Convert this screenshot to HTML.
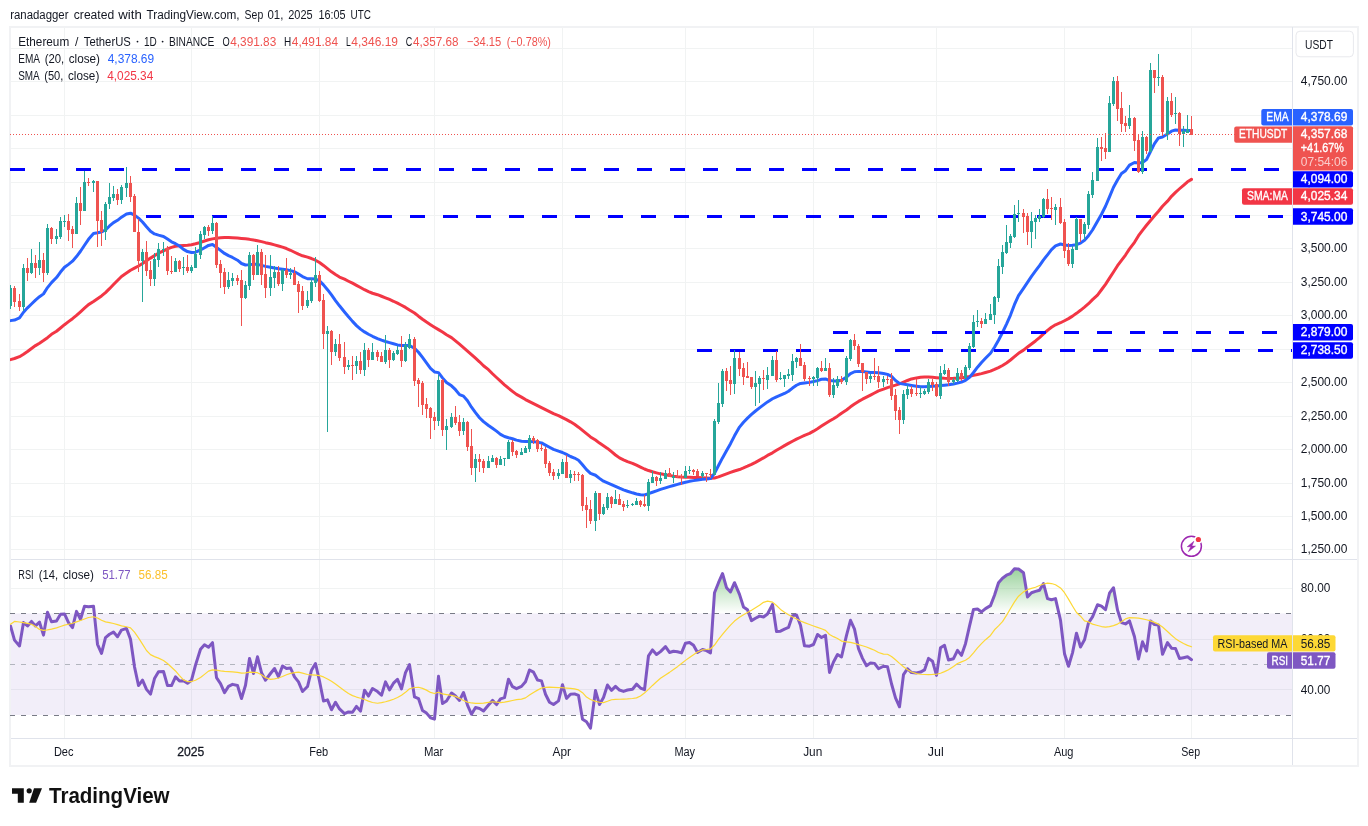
<!DOCTYPE html><html><head><meta charset="utf-8"><title>ETHUSDT</title><style>html,body{margin:0;padding:0;background:#fff;width:1368px;height:826px;overflow:hidden}svg text{font-family:"Liberation Sans",sans-serif}</style></head><body><svg width="1368" height="826" viewBox="0 0 1368 826" style="position:absolute;left:0;top:0;will-change:transform">
<defs>
<clipPath id="cm"><rect x="10" y="27" width="1282" height="532"/></clipPath>
<clipPath id="cr"><rect x="10" y="560" width="1282" height="178"/></clipPath>
<linearGradient id="gob" x1="0" y1="537.4" x2="0" y2="613.5" gradientUnits="userSpaceOnUse"><stop offset="0" stop-color="#4caf50" stop-opacity="0.95"/><stop offset="1" stop-color="#4caf50" stop-opacity="0"/></linearGradient>
</defs>
<rect x="0" y="0" width="1368" height="826" fill="#fff"/>
<rect x="10" y="27" width="1348" height="739" fill="none" stroke="#f1f2f4" stroke-width="2"/>
<g shape-rendering="crispEdges">
<rect x="11" y="48" width="1281" height="1" fill="#f1f3f3"/>
<rect x="11" y="81" width="1281" height="1" fill="#f1f3f3"/>
<rect x="11" y="115" width="1281" height="1" fill="#f1f3f3"/>
<rect x="11" y="148" width="1281" height="1" fill="#f1f3f3"/>
<rect x="11" y="182" width="1281" height="1" fill="#f1f3f3"/>
<rect x="11" y="215" width="1281" height="1" fill="#f1f3f3"/>
<rect x="11" y="248" width="1281" height="1" fill="#f1f3f3"/>
<rect x="11" y="282" width="1281" height="1" fill="#f1f3f3"/>
<rect x="11" y="315" width="1281" height="1" fill="#f1f3f3"/>
<rect x="11" y="349" width="1281" height="1" fill="#f1f3f3"/>
<rect x="11" y="382" width="1281" height="1" fill="#f1f3f3"/>
<rect x="11" y="416" width="1281" height="1" fill="#f1f3f3"/>
<rect x="11" y="449" width="1281" height="1" fill="#f1f3f3"/>
<rect x="11" y="483" width="1281" height="1" fill="#f1f3f3"/>
<rect x="11" y="516" width="1281" height="1" fill="#f1f3f3"/>
<rect x="11" y="549" width="1281" height="1" fill="#f1f3f3"/>
<rect x="11" y="588" width="1281" height="1" fill="#f1f3f3"/>
<rect x="11" y="639" width="1281" height="1" fill="#f1f3f3"/>
<rect x="11" y="689" width="1281" height="1" fill="#f1f3f3"/>
<rect x="64" y="27" width="1" height="711" fill="#f1f3f3"/>
<rect x="191" y="27" width="1" height="711" fill="#f1f3f3"/>
<rect x="319" y="27" width="1" height="711" fill="#f1f3f3"/>
<rect x="434" y="27" width="1" height="711" fill="#f1f3f3"/>
<rect x="562" y="27" width="1" height="711" fill="#f1f3f3"/>
<rect x="685" y="27" width="1" height="711" fill="#f1f3f3"/>
<rect x="813" y="27" width="1" height="711" fill="#f1f3f3"/>
<rect x="936" y="27" width="1" height="711" fill="#f1f3f3"/>
<rect x="1064" y="27" width="1" height="711" fill="#f1f3f3"/>
<rect x="1191" y="27" width="1" height="711" fill="#f1f3f3"/>
<rect x="11" y="559" width="1346" height="1" fill="#e0e3eb"/>
<rect x="11" y="738" width="1346" height="1" fill="#e0e3eb"/>
<rect x="1292" y="27" width="1" height="738" fill="#e0e3eb"/>
</g>
<rect x="11" y="613.5" width="1281" height="101.5" fill="#7e57c2" fill-opacity="0.1"/>
<line x1="10" y1="613.5" x2="1292" y2="613.5" stroke="#787b86" stroke-width="1" stroke-dasharray="5 6"/>
<line x1="10" y1="664.5" x2="1292" y2="664.5" stroke="#b2b5be" stroke-width="1" stroke-dasharray="5 6"/>
<line x1="10" y1="715.5" x2="1292" y2="715.5" stroke="#787b86" stroke-width="1" stroke-dasharray="5 6"/>
<path d="M10.5 359.61 L14.5 358.53 L19.5 356.67 L23.5 354.24 L27.5 351.53 L31.5 348.46 L35.5 345.59 L39.5 343.20 L43.5 340.53 L47.5 337.66 L51.5 334.33 L56.5 331.26 L60.5 327.99 L64.5 324.70 L68.5 321.65 L72.5 318.68 L76.5 315.41 L80.5 311.79 L84.5 308.14 L88.5 304.63 L93.5 301.57 L97.5 298.74 L101.5 295.93 L105.5 292.59 L109.5 288.69 L113.5 284.51 L117.5 280.46 L121.5 276.52 L126.5 273.10 L130.5 270.26 L134.5 268.15 L138.5 266.02 L142.5 263.51 L146.5 260.76 L150.5 258.10 L154.5 255.65 L158.5 253.15 L163.5 250.82 L167.5 248.80 L171.5 247.34 L175.5 246.32 L179.5 245.71 L183.5 245.40 L187.5 245.19 L191.5 244.74 L195.5 243.78 L200.5 242.46 L204.5 241.01 L208.5 239.81 L212.5 238.87 L216.5 238.21 L220.5 237.80 L224.5 237.60 L228.5 237.62 L232.5 237.83 L237.5 238.11 L241.5 238.46 L245.5 238.86 L249.5 239.36 L253.5 240.00 L257.5 240.78 L261.5 241.66 L265.5 242.67 L270.5 243.74 L274.5 244.87 L278.5 245.96 L282.5 247.14 L286.5 248.52 L290.5 250.26 L294.5 252.26 L298.5 254.17 L302.5 255.80 L307.5 257.14 L311.5 258.54 L315.5 260.20 L319.5 262.50 L323.5 265.45 L327.5 268.70 L331.5 271.85 L335.5 274.55 L339.5 277.01 L344.5 279.16 L348.5 281.21 L352.5 283.18 L356.5 285.31 L360.5 287.54 L364.5 289.72 L368.5 291.61 L372.5 293.25 L377.5 294.72 L381.5 296.24 L385.5 297.79 L389.5 299.47 L393.5 301.26 L397.5 303.17 L401.5 305.22 L405.5 307.43 L409.5 310.05 L414.5 312.99 L418.5 316.20 L422.5 319.23 L426.5 322.05 L430.5 324.66 L434.5 327.16 L438.5 329.60 L442.5 332.00 L446.5 334.68 L451.5 337.60 L455.5 340.85 L459.5 344.16 L463.5 347.60 L467.5 351.10 L471.5 354.64 L475.5 358.21 L479.5 361.79 L483.5 365.71 L488.5 369.70 L492.5 373.76 L496.5 377.51 L500.5 381.20 L504.5 384.78 L508.5 388.18 L512.5 391.34 L516.5 394.40 L521.5 397.11 L525.5 399.55 L529.5 401.64 L533.5 403.66 L537.5 405.65 L541.5 407.64 L545.5 409.65 L549.5 411.64 L553.5 413.68 L558.5 415.63 L562.5 417.61 L566.5 419.61 L570.5 421.84 L574.5 424.33 L578.5 427.18 L582.5 430.39 L586.5 433.67 L590.5 436.95 L595.5 440.06 L599.5 443.09 L603.5 445.75 L607.5 448.42 L611.5 451.69 L615.5 455.00 L619.5 457.90 L623.5 459.83 L627.5 461.59 L632.5 463.33 L636.5 465.22 L640.5 467.16 L644.5 469.00 L648.5 470.54 L652.5 471.77 L656.5 472.84 L660.5 473.85 L665.5 474.74 L669.5 475.52 L673.5 476.13 L677.5 476.64 L681.5 477.00 L685.5 477.23 L689.5 477.36 L693.5 477.46 L697.5 477.56 L702.5 477.71 L706.5 478.05 L710.5 478.31 L714.5 477.96 L718.5 476.88 L722.5 475.32 L726.5 473.82 L730.5 472.40 L734.5 470.99 L739.5 469.55 L743.5 467.95 L747.5 466.23 L751.5 464.34 L755.5 462.31 L759.5 460.16 L763.5 457.92 L767.5 455.41 L772.5 452.86 L776.5 450.29 L780.5 447.93 L784.5 445.61 L788.5 443.36 L792.5 441.20 L796.5 439.15 L800.5 437.26 L804.5 435.35 L809.5 433.39 L813.5 431.16 L817.5 428.73 L821.5 426.10 L825.5 423.52 L829.5 421.08 L833.5 418.68 L837.5 416.15 L841.5 413.18 L846.5 410.01 L850.5 406.81 L854.5 403.99 L858.5 401.43 L862.5 399.19 L866.5 397.16 L870.5 395.07 L874.5 392.97 L878.5 390.85 L883.5 389.09 L887.5 387.56 L891.5 386.31 L895.5 385.12 L899.5 383.78 L903.5 382.17 L907.5 380.49 L911.5 378.96 L916.5 377.90 L920.5 377.22 L924.5 377.01 L928.5 377.07 L932.5 377.33 L936.5 377.66 L940.5 377.98 L944.5 378.24 L948.5 378.39 L953.5 378.36 L957.5 378.15 L961.5 377.78 L965.5 377.18 L969.5 376.35 L973.5 375.40 L977.5 374.48 L981.5 373.59 L985.5 372.47 L990.5 371.10 L994.5 369.42 L998.5 367.57 L1002.5 365.46 L1006.5 362.97 L1010.5 360.01 L1014.5 356.67 L1018.5 353.35 L1023.5 350.12 L1027.5 347.03 L1031.5 343.97 L1035.5 340.95 L1039.5 337.64 L1043.5 333.96 L1047.5 330.35 L1051.5 327.27 L1055.5 324.80 L1060.5 322.73 L1064.5 320.72 L1068.5 318.61 L1072.5 316.13 L1076.5 313.34 L1080.5 310.31 L1084.5 307.11 L1088.5 303.72 L1092.5 299.67 L1097.5 295.03 L1101.5 289.74 L1105.5 284.31 L1109.5 278.13 L1113.5 271.99 L1117.5 265.69 L1121.5 260.33 L1125.5 255.03 L1129.5 248.88 L1134.5 242.30 L1138.5 235.71 L1142.5 230.32 L1146.5 225.26 L1150.5 220.46 L1154.5 215.81 L1158.5 211.23 L1162.5 206.22 L1167.5 201.17 L1171.5 196.33 L1175.5 192.33 L1179.5 188.75 L1183.5 185.31 L1187.5 181.76 L1191.5 179.35" fill="none" stroke="#f23645" stroke-width="3" stroke-linejoin="round" stroke-linecap="round" clip-path="url(#cm)" />
<path d="M10.5 320.62 L14.5 320.03 L19.5 317.98 L23.5 312.25 L27.5 307.85 L31.5 304.03 L35.5 300.12 L39.5 296.69 L43.5 293.87 L47.5 287.57 L51.5 282.63 L56.5 277.56 L60.5 272.05 L64.5 267.27 L68.5 264.34 L72.5 261.16 L76.5 256.55 L80.5 251.25 L84.5 245.24 L88.5 239.29 L93.5 233.58 L97.5 232.82 L101.5 231.93 L105.5 230.00 L109.5 225.97 L113.5 222.59 L117.5 220.32 L121.5 217.15 L126.5 213.97 L130.5 213.19 L134.5 215.14 L138.5 218.16 L142.5 222.00 L146.5 226.73 L150.5 231.25 L154.5 233.94 L158.5 235.17 L163.5 236.45 L167.5 239.12 L171.5 241.80 L175.5 243.68 L179.5 246.01 L183.5 249.36 L187.5 251.58 L191.5 252.50 L195.5 252.14 L200.5 250.00 L204.5 247.69 L208.5 245.42 L212.5 244.46 L216.5 247.34 L220.5 250.43 L224.5 253.44 L228.5 255.63 L232.5 257.48 L237.5 260.21 L241.5 263.49 L245.5 264.99 L249.5 264.63 L253.5 264.18 L257.5 264.36 L261.5 265.36 L265.5 266.35 L270.5 267.32 L274.5 268.04 L278.5 268.65 L282.5 269.20 L286.5 269.82 L290.5 270.60 L294.5 271.70 L298.5 274.03 L302.5 276.56 L307.5 278.75 L311.5 278.87 L315.5 279.00 L319.5 280.90 L323.5 284.85 L327.5 289.67 L331.5 294.92 L335.5 300.53 L339.5 305.82 L344.5 311.94 L348.5 316.80 L352.5 321.37 L356.5 325.60 L360.5 329.14 L364.5 331.91 L368.5 334.24 L372.5 336.28 L377.5 338.53 L381.5 340.09 L385.5 341.46 L389.5 342.65 L393.5 343.76 L397.5 344.90 L401.5 345.59 L405.5 345.62 L409.5 345.62 L414.5 348.25 L418.5 352.27 L422.5 357.45 L426.5 362.81 L430.5 368.40 L434.5 371.91 L438.5 372.65 L442.5 377.87 L446.5 382.44 L451.5 385.83 L455.5 389.68 L459.5 394.59 L463.5 396.13 L467.5 400.77 L471.5 407.21 L475.5 412.68 L479.5 417.73 L483.5 421.67 L488.5 425.47 L492.5 428.24 L496.5 431.14 L500.5 434.32 L504.5 436.54 L508.5 437.73 L512.5 438.75 L516.5 440.12 L521.5 441.26 L525.5 441.38 L529.5 441.48 L533.5 441.71 L537.5 442.12 L541.5 442.94 L545.5 445.12 L549.5 447.29 L553.5 449.35 L558.5 451.17 L562.5 452.50 L566.5 454.44 L570.5 456.48 L574.5 458.03 L578.5 460.20 L582.5 464.77 L586.5 469.65 L590.5 473.38 L595.5 475.27 L599.5 478.39 L603.5 481.16 L607.5 482.91 L611.5 484.61 L615.5 486.47 L619.5 488.23 L623.5 489.87 L627.5 491.25 L632.5 492.81 L636.5 493.96 L640.5 494.76 L644.5 494.95 L648.5 493.67 L652.5 492.29 L656.5 490.84 L660.5 489.41 L665.5 487.81 L669.5 486.61 L673.5 485.47 L677.5 484.38 L681.5 483.29 L685.5 482.24 L689.5 481.35 L693.5 480.64 L697.5 480.03 L702.5 479.38 L706.5 479.04 L710.5 478.53 L714.5 473.34 L718.5 465.54 L722.5 457.91 L726.5 450.80 L730.5 443.69 L734.5 435.85 L739.5 427.12 L743.5 422.27 L747.5 418.12 L751.5 414.38 L755.5 411.02 L759.5 407.88 L763.5 404.83 L767.5 401.91 L772.5 398.75 L776.5 396.80 L780.5 395.16 L784.5 393.44 L788.5 391.24 L792.5 388.08 L796.5 385.26 L800.5 383.41 L804.5 382.93 L809.5 382.38 L813.5 381.58 L817.5 380.62 L821.5 379.29 L825.5 378.93 L829.5 380.55 L833.5 380.88 L837.5 381.00 L841.5 380.23 L846.5 377.13 L850.5 373.65 L854.5 371.75 L858.5 371.38 L862.5 371.58 L866.5 371.97 L870.5 372.49 L874.5 372.50 L878.5 372.68 L883.5 373.43 L887.5 374.37 L891.5 376.41 L895.5 380.51 L899.5 383.35 L903.5 384.13 L907.5 384.82 L911.5 385.49 L916.5 386.22 L920.5 386.77 L924.5 386.82 L928.5 386.49 L932.5 386.16 L936.5 385.90 L940.5 385.58 L944.5 385.16 L948.5 384.66 L953.5 383.91 L957.5 383.12 L961.5 382.02 L965.5 380.37 L969.5 377.34 L973.5 372.51 L977.5 367.22 L981.5 362.50 L985.5 358.24 L990.5 353.22 L994.5 347.22 L998.5 340.23 L1002.5 332.50 L1006.5 324.12 L1010.5 315.06 L1014.5 304.46 L1018.5 295.72 L1023.5 288.41 L1027.5 282.45 L1031.5 276.43 L1035.5 270.98 L1039.5 265.70 L1043.5 259.89 L1047.5 254.84 L1051.5 249.63 L1055.5 245.93 L1060.5 244.02 L1064.5 245.05 L1068.5 245.61 L1072.5 245.32 L1076.5 244.69 L1080.5 243.02 L1084.5 240.32 L1088.5 235.71 L1092.5 230.01 L1097.5 221.25 L1101.5 214.27 L1105.5 206.29 L1109.5 196.82 L1113.5 187.29 L1117.5 180.00 L1121.5 173.47 L1125.5 170.67 L1129.5 165.16 L1134.5 162.52 L1138.5 163.03 L1142.5 162.54 L1146.5 159.64 L1150.5 151.51 L1154.5 143.60 L1158.5 137.97 L1162.5 137.07 L1167.5 133.98 L1171.5 131.18 L1175.5 130.01 L1179.5 130.17 L1183.5 130.33 L1187.5 130.48 L1191.5 130.62" fill="none" stroke="#2962ff" stroke-width="3" stroke-linejoin="round" stroke-linecap="round" clip-path="url(#cm)" />
<line x1="10" y1="169.5" x2="1292" y2="169.5" stroke="#0000ff" stroke-width="3" stroke-dasharray="15 18" clip-path="url(#cm)"/>
<line x1="146" y1="216.5" x2="1292" y2="216.5" stroke="#0000ff" stroke-width="3" stroke-dasharray="15 18" clip-path="url(#cm)"/>
<line x1="833" y1="332.5" x2="1292" y2="332.5" stroke="#0000ff" stroke-width="3" stroke-dasharray="15 18" clip-path="url(#cm)"/>
<line x1="697" y1="350.5" x2="1292" y2="350.5" stroke="#0000ff" stroke-width="3" stroke-dasharray="15 18" clip-path="url(#cm)"/>
<g clip-path="url(#cm)" shape-rendering="crispEdges">
<rect x="10" y="285" width="1" height="24" fill="#26a69a"/><rect x="9" y="288" width="3" height="18" fill="#26a69a"/>
<rect x="14" y="286" width="1" height="21" fill="#ef5350"/><rect x="13" y="288" width="3" height="14" fill="#ef5350"/>
<rect x="19" y="294" width="1" height="17" fill="#ef5350"/><rect x="18" y="301" width="3" height="6" fill="#ef5350"/>
<rect x="23" y="264" width="1" height="47" fill="#26a69a"/><rect x="22" y="268" width="3" height="39" fill="#26a69a"/>
<rect x="27" y="258" width="1" height="23" fill="#ef5350"/><rect x="26" y="268" width="3" height="5" fill="#ef5350"/>
<rect x="31" y="249" width="1" height="25" fill="#26a69a"/><rect x="30" y="263" width="3" height="10" fill="#26a69a"/>
<rect x="35" y="255" width="1" height="23" fill="#ef5350"/><rect x="34" y="263" width="3" height="5" fill="#ef5350"/>
<rect x="39" y="242" width="1" height="33" fill="#26a69a"/><rect x="38" y="260" width="3" height="8" fill="#26a69a"/>
<rect x="43" y="253" width="1" height="29" fill="#ef5350"/><rect x="42" y="260" width="3" height="13" fill="#ef5350"/>
<rect x="47" y="224" width="1" height="51" fill="#26a69a"/><rect x="46" y="228" width="3" height="45" fill="#26a69a"/>
<rect x="51" y="227" width="1" height="17" fill="#ef5350"/><rect x="50" y="228" width="3" height="11" fill="#ef5350"/>
<rect x="56" y="229" width="1" height="15" fill="#26a69a"/><rect x="55" y="236" width="3" height="3" fill="#26a69a"/>
<rect x="60" y="217" width="1" height="22" fill="#26a69a"/><rect x="59" y="221" width="3" height="16" fill="#26a69a"/>
<rect x="64" y="215" width="1" height="12" fill="#26a69a"/><rect x="63" y="221" width="3" height="1" fill="#26a69a"/>
<rect x="68" y="214" width="1" height="27" fill="#ef5350"/><rect x="67" y="221" width="3" height="9" fill="#ef5350"/>
<rect x="72" y="226" width="1" height="22" fill="#ef5350"/><rect x="71" y="229" width="3" height="5" fill="#ef5350"/>
<rect x="76" y="197" width="1" height="37" fill="#26a69a"/><rect x="75" y="203" width="3" height="31" fill="#26a69a"/>
<rect x="80" y="187" width="1" height="38" fill="#ef5350"/><rect x="79" y="203" width="3" height="8" fill="#ef5350"/>
<rect x="84" y="171" width="1" height="40" fill="#26a69a"/><rect x="83" y="182" width="3" height="29" fill="#26a69a"/>
<rect x="88" y="178" width="1" height="8" fill="#ef5350"/><rect x="87" y="182" width="3" height="1" fill="#ef5350"/>
<rect x="93" y="180" width="1" height="12" fill="#26a69a"/><rect x="92" y="181" width="3" height="2" fill="#26a69a"/>
<rect x="97" y="181" width="1" height="66" fill="#ef5350"/><rect x="96" y="181" width="3" height="40" fill="#ef5350"/>
<rect x="101" y="211" width="1" height="35" fill="#ef5350"/><rect x="100" y="220" width="3" height="12" fill="#ef5350"/>
<rect x="105" y="202" width="1" height="38" fill="#26a69a"/><rect x="104" y="204" width="3" height="28" fill="#26a69a"/>
<rect x="109" y="183" width="1" height="26" fill="#26a69a"/><rect x="108" y="197" width="3" height="7" fill="#26a69a"/>
<rect x="113" y="186" width="1" height="15" fill="#26a69a"/><rect x="112" y="194" width="3" height="4" fill="#26a69a"/>
<rect x="117" y="189" width="1" height="16" fill="#ef5350"/><rect x="116" y="194" width="3" height="6" fill="#ef5350"/>
<rect x="121" y="185" width="1" height="19" fill="#26a69a"/><rect x="120" y="187" width="3" height="13" fill="#26a69a"/>
<rect x="126" y="167" width="1" height="30" fill="#26a69a"/><rect x="125" y="183" width="3" height="5" fill="#26a69a"/>
<rect x="130" y="176" width="1" height="26" fill="#ef5350"/><rect x="129" y="183" width="3" height="14" fill="#ef5350"/>
<rect x="134" y="194" width="1" height="38" fill="#ef5350"/><rect x="133" y="196" width="3" height="36" fill="#ef5350"/>
<rect x="138" y="219" width="1" height="53" fill="#ef5350"/><rect x="137" y="232" width="3" height="29" fill="#ef5350"/>
<rect x="142" y="249" width="1" height="53" fill="#26a69a"/><rect x="141" y="252" width="3" height="9" fill="#26a69a"/>
<rect x="146" y="241" width="1" height="35" fill="#ef5350"/><rect x="145" y="252" width="3" height="19" fill="#ef5350"/>
<rect x="150" y="261" width="1" height="25" fill="#ef5350"/><rect x="149" y="270" width="3" height="9" fill="#ef5350"/>
<rect x="154" y="253" width="1" height="33" fill="#26a69a"/><rect x="153" y="259" width="3" height="20" fill="#26a69a"/>
<rect x="158" y="243" width="1" height="24" fill="#26a69a"/><rect x="157" y="249" width="3" height="11" fill="#26a69a"/>
<rect x="163" y="242" width="1" height="14" fill="#26a69a"/><rect x="162" y="249" width="3" height="1" fill="#26a69a"/>
<rect x="167" y="246" width="1" height="29" fill="#ef5350"/><rect x="166" y="248" width="3" height="23" fill="#ef5350"/>
<rect x="171" y="256" width="1" height="18" fill="#ef5350"/><rect x="170" y="271" width="3" height="1" fill="#ef5350"/>
<rect x="175" y="258" width="1" height="14" fill="#26a69a"/><rect x="174" y="261" width="3" height="11" fill="#26a69a"/>
<rect x="179" y="260" width="1" height="12" fill="#ef5350"/><rect x="178" y="261" width="3" height="8" fill="#ef5350"/>
<rect x="183" y="257" width="1" height="18" fill="#26a69a"/><rect x="182" y="267" width="3" height="1" fill="#26a69a"/>
<rect x="187" y="255" width="1" height="18" fill="#ef5350"/><rect x="186" y="267" width="3" height="4" fill="#ef5350"/>
<rect x="191" y="265" width="1" height="8" fill="#26a69a"/><rect x="190" y="267" width="3" height="4" fill="#26a69a"/>
<rect x="195" y="247" width="1" height="21" fill="#26a69a"/><rect x="194" y="254" width="3" height="14" fill="#26a69a"/>
<rect x="200" y="231" width="1" height="28" fill="#26a69a"/><rect x="199" y="234" width="3" height="21" fill="#26a69a"/>
<rect x="204" y="226" width="1" height="13" fill="#26a69a"/><rect x="203" y="227" width="3" height="8" fill="#26a69a"/>
<rect x="208" y="225" width="1" height="11" fill="#ef5350"/><rect x="207" y="227" width="3" height="4" fill="#ef5350"/>
<rect x="212" y="216" width="1" height="18" fill="#26a69a"/><rect x="211" y="223" width="3" height="8" fill="#26a69a"/>
<rect x="216" y="222" width="1" height="46" fill="#ef5350"/><rect x="215" y="223" width="3" height="42" fill="#ef5350"/>
<rect x="220" y="260" width="1" height="28" fill="#ef5350"/><rect x="219" y="264" width="3" height="9" fill="#ef5350"/>
<rect x="224" y="268" width="1" height="26" fill="#ef5350"/><rect x="223" y="272" width="3" height="15" fill="#ef5350"/>
<rect x="228" y="272" width="1" height="17" fill="#26a69a"/><rect x="227" y="280" width="3" height="7" fill="#26a69a"/>
<rect x="232" y="273" width="1" height="13" fill="#26a69a"/><rect x="231" y="278" width="3" height="3" fill="#26a69a"/>
<rect x="237" y="275" width="1" height="10" fill="#ef5350"/><rect x="236" y="278" width="3" height="3" fill="#ef5350"/>
<rect x="241" y="270" width="1" height="56" fill="#ef5350"/><rect x="240" y="280" width="3" height="18" fill="#ef5350"/>
<rect x="245" y="281" width="1" height="18" fill="#26a69a"/><rect x="244" y="285" width="3" height="13" fill="#26a69a"/>
<rect x="249" y="252" width="1" height="38" fill="#26a69a"/><rect x="248" y="255" width="3" height="31" fill="#26a69a"/>
<rect x="253" y="254" width="1" height="26" fill="#ef5350"/><rect x="252" y="255" width="3" height="20" fill="#ef5350"/>
<rect x="257" y="245" width="1" height="30" fill="#26a69a"/><rect x="256" y="252" width="3" height="23" fill="#26a69a"/>
<rect x="261" y="249" width="1" height="36" fill="#ef5350"/><rect x="260" y="252" width="3" height="23" fill="#ef5350"/>
<rect x="265" y="255" width="1" height="43" fill="#ef5350"/><rect x="264" y="274" width="3" height="14" fill="#ef5350"/>
<rect x="270" y="255" width="1" height="41" fill="#26a69a"/><rect x="269" y="277" width="3" height="11" fill="#26a69a"/>
<rect x="274" y="266" width="1" height="22" fill="#26a69a"/><rect x="273" y="272" width="3" height="6" fill="#26a69a"/>
<rect x="278" y="266" width="1" height="20" fill="#ef5350"/><rect x="277" y="272" width="3" height="12" fill="#ef5350"/>
<rect x="282" y="269" width="1" height="22" fill="#26a69a"/><rect x="281" y="270" width="3" height="14" fill="#26a69a"/>
<rect x="286" y="258" width="1" height="20" fill="#ef5350"/><rect x="285" y="270" width="3" height="5" fill="#ef5350"/>
<rect x="290" y="268" width="1" height="11" fill="#26a69a"/><rect x="289" y="273" width="3" height="2" fill="#26a69a"/>
<rect x="294" y="267" width="1" height="18" fill="#ef5350"/><rect x="293" y="273" width="3" height="12" fill="#ef5350"/>
<rect x="298" y="281" width="1" height="32" fill="#ef5350"/><rect x="297" y="284" width="3" height="8" fill="#ef5350"/>
<rect x="302" y="286" width="1" height="24" fill="#ef5350"/><rect x="301" y="291" width="3" height="15" fill="#ef5350"/>
<rect x="307" y="291" width="1" height="17" fill="#26a69a"/><rect x="306" y="300" width="3" height="6" fill="#26a69a"/>
<rect x="311" y="278" width="1" height="25" fill="#26a69a"/><rect x="310" y="282" width="3" height="19" fill="#26a69a"/>
<rect x="315" y="257" width="1" height="30" fill="#26a69a"/><rect x="314" y="275" width="3" height="8" fill="#26a69a"/>
<rect x="319" y="271" width="1" height="31" fill="#ef5350"/><rect x="318" y="275" width="3" height="26" fill="#ef5350"/>
<rect x="323" y="294" width="1" height="55" fill="#ef5350"/><rect x="322" y="300" width="3" height="34" fill="#ef5350"/>
<rect x="327" y="326" width="1" height="106" fill="#26a69a"/><rect x="326" y="331" width="3" height="3" fill="#26a69a"/>
<rect x="331" y="330" width="1" height="35" fill="#ef5350"/><rect x="330" y="331" width="3" height="21" fill="#ef5350"/>
<rect x="335" y="339" width="1" height="17" fill="#26a69a"/><rect x="334" y="344" width="3" height="8" fill="#26a69a"/>
<rect x="339" y="334" width="1" height="27" fill="#ef5350"/><rect x="338" y="344" width="3" height="14" fill="#ef5350"/>
<rect x="344" y="342" width="1" height="32" fill="#ef5350"/><rect x="343" y="357" width="3" height="10" fill="#ef5350"/>
<rect x="348" y="360" width="1" height="10" fill="#26a69a"/><rect x="347" y="365" width="3" height="2" fill="#26a69a"/>
<rect x="352" y="356" width="1" height="24" fill="#ef5350"/><rect x="351" y="365" width="3" height="1" fill="#ef5350"/>
<rect x="356" y="356" width="1" height="18" fill="#26a69a"/><rect x="355" y="361" width="3" height="5" fill="#26a69a"/>
<rect x="360" y="352" width="1" height="22" fill="#ef5350"/><rect x="359" y="361" width="3" height="9" fill="#ef5350"/>
<rect x="364" y="343" width="1" height="33" fill="#26a69a"/><rect x="363" y="350" width="3" height="20" fill="#26a69a"/>
<rect x="368" y="348" width="1" height="19" fill="#ef5350"/><rect x="367" y="350" width="3" height="10" fill="#ef5350"/>
<rect x="372" y="343" width="1" height="17" fill="#26a69a"/><rect x="371" y="352" width="3" height="8" fill="#26a69a"/>
<rect x="377" y="350" width="1" height="11" fill="#ef5350"/><rect x="376" y="352" width="3" height="5" fill="#ef5350"/>
<rect x="381" y="352" width="1" height="10" fill="#ef5350"/><rect x="380" y="356" width="3" height="6" fill="#ef5350"/>
<rect x="385" y="335" width="1" height="29" fill="#26a69a"/><rect x="384" y="350" width="3" height="12" fill="#26a69a"/>
<rect x="389" y="348" width="1" height="20" fill="#ef5350"/><rect x="388" y="350" width="3" height="10" fill="#ef5350"/>
<rect x="393" y="351" width="1" height="10" fill="#26a69a"/><rect x="392" y="353" width="3" height="7" fill="#26a69a"/>
<rect x="397" y="346" width="1" height="9" fill="#26a69a"/><rect x="396" y="350" width="3" height="4" fill="#26a69a"/>
<rect x="401" y="336" width="1" height="31" fill="#ef5350"/><rect x="400" y="350" width="3" height="11" fill="#ef5350"/>
<rect x="405" y="342" width="1" height="20" fill="#26a69a"/><rect x="404" y="345" width="3" height="16" fill="#26a69a"/>
<rect x="409" y="334" width="1" height="15" fill="#26a69a"/><rect x="408" y="339" width="3" height="9" fill="#26a69a"/>
<rect x="414" y="337" width="1" height="49" fill="#ef5350"/><rect x="413" y="339" width="3" height="42" fill="#ef5350"/>
<rect x="418" y="378" width="1" height="29" fill="#ef5350"/><rect x="417" y="380" width="3" height="4" fill="#ef5350"/>
<rect x="422" y="381" width="1" height="34" fill="#ef5350"/><rect x="421" y="383" width="3" height="22" fill="#ef5350"/>
<rect x="426" y="398" width="1" height="20" fill="#ef5350"/><rect x="425" y="404" width="3" height="5" fill="#ef5350"/>
<rect x="430" y="407" width="1" height="32" fill="#ef5350"/><rect x="429" y="408" width="3" height="10" fill="#ef5350"/>
<rect x="434" y="412" width="1" height="18" fill="#ef5350"/><rect x="433" y="417" width="3" height="4" fill="#ef5350"/>
<rect x="438" y="375" width="1" height="51" fill="#26a69a"/><rect x="437" y="380" width="3" height="41" fill="#26a69a"/>
<rect x="442" y="379" width="1" height="57" fill="#ef5350"/><rect x="441" y="380" width="3" height="50" fill="#ef5350"/>
<rect x="446" y="419" width="1" height="31" fill="#26a69a"/><rect x="445" y="426" width="3" height="4" fill="#26a69a"/>
<rect x="451" y="413" width="1" height="15" fill="#26a69a"/><rect x="450" y="417" width="3" height="10" fill="#26a69a"/>
<rect x="455" y="406" width="1" height="19" fill="#ef5350"/><rect x="454" y="417" width="3" height="6" fill="#ef5350"/>
<rect x="459" y="415" width="1" height="21" fill="#ef5350"/><rect x="458" y="422" width="3" height="9" fill="#ef5350"/>
<rect x="463" y="418" width="1" height="17" fill="#26a69a"/><rect x="462" y="422" width="3" height="9" fill="#26a69a"/>
<rect x="467" y="421" width="1" height="30" fill="#ef5350"/><rect x="466" y="422" width="3" height="25" fill="#ef5350"/>
<rect x="471" y="429" width="1" height="46" fill="#ef5350"/><rect x="470" y="446" width="3" height="22" fill="#ef5350"/>
<rect x="475" y="454" width="1" height="28" fill="#26a69a"/><rect x="474" y="459" width="3" height="9" fill="#26a69a"/>
<rect x="479" y="454" width="1" height="18" fill="#ef5350"/><rect x="478" y="459" width="3" height="3" fill="#ef5350"/>
<rect x="483" y="459" width="1" height="14" fill="#ef5350"/><rect x="482" y="461" width="3" height="7" fill="#ef5350"/>
<rect x="488" y="456" width="1" height="12" fill="#26a69a"/><rect x="487" y="461" width="3" height="7" fill="#26a69a"/>
<rect x="492" y="455" width="1" height="7" fill="#26a69a"/><rect x="491" y="458" width="3" height="4" fill="#26a69a"/>
<rect x="496" y="457" width="1" height="11" fill="#ef5350"/><rect x="495" y="458" width="3" height="7" fill="#ef5350"/>
<rect x="500" y="456" width="1" height="9" fill="#26a69a"/><rect x="499" y="459" width="3" height="6" fill="#26a69a"/>
<rect x="504" y="458" width="1" height="8" fill="#26a69a"/><rect x="503" y="458" width="3" height="1" fill="#26a69a"/>
<rect x="508" y="440" width="1" height="19" fill="#26a69a"/><rect x="507" y="442" width="3" height="17" fill="#26a69a"/>
<rect x="512" y="440" width="1" height="16" fill="#ef5350"/><rect x="511" y="442" width="3" height="10" fill="#ef5350"/>
<rect x="516" y="450" width="1" height="8" fill="#ef5350"/><rect x="515" y="451" width="3" height="4" fill="#ef5350"/>
<rect x="521" y="448" width="1" height="7" fill="#26a69a"/><rect x="520" y="452" width="3" height="3" fill="#26a69a"/>
<rect x="525" y="446" width="1" height="7" fill="#26a69a"/><rect x="524" y="448" width="3" height="5" fill="#26a69a"/>
<rect x="529" y="435" width="1" height="17" fill="#26a69a"/><rect x="528" y="438" width="3" height="11" fill="#26a69a"/>
<rect x="533" y="436" width="1" height="8" fill="#ef5350"/><rect x="532" y="438" width="3" height="3" fill="#ef5350"/>
<rect x="537" y="439" width="1" height="13" fill="#ef5350"/><rect x="536" y="440" width="3" height="9" fill="#ef5350"/>
<rect x="541" y="444" width="1" height="7" fill="#ef5350"/><rect x="540" y="448" width="3" height="1" fill="#ef5350"/>
<rect x="545" y="447" width="1" height="21" fill="#ef5350"/><rect x="544" y="449" width="3" height="15" fill="#ef5350"/>
<rect x="549" y="461" width="1" height="15" fill="#ef5350"/><rect x="548" y="463" width="3" height="10" fill="#ef5350"/>
<rect x="553" y="469" width="1" height="11" fill="#ef5350"/><rect x="552" y="472" width="3" height="4" fill="#ef5350"/>
<rect x="558" y="469" width="1" height="10" fill="#26a69a"/><rect x="557" y="473" width="3" height="3" fill="#26a69a"/>
<rect x="562" y="459" width="1" height="15" fill="#26a69a"/><rect x="561" y="462" width="3" height="12" fill="#26a69a"/>
<rect x="566" y="455" width="1" height="23" fill="#ef5350"/><rect x="565" y="462" width="3" height="16" fill="#ef5350"/>
<rect x="570" y="470" width="1" height="13" fill="#26a69a"/><rect x="569" y="474" width="3" height="4" fill="#26a69a"/>
<rect x="574" y="471" width="1" height="10" fill="#ef5350"/><rect x="573" y="474" width="3" height="1" fill="#ef5350"/>
<rect x="578" y="472" width="1" height="9" fill="#ef5350"/><rect x="577" y="474" width="3" height="1" fill="#ef5350"/>
<rect x="582" y="474" width="1" height="37" fill="#ef5350"/><rect x="581" y="475" width="3" height="31" fill="#ef5350"/>
<rect x="586" y="497" width="1" height="31" fill="#ef5350"/><rect x="585" y="505" width="3" height="5" fill="#ef5350"/>
<rect x="590" y="500" width="1" height="24" fill="#ef5350"/><rect x="589" y="509" width="3" height="12" fill="#ef5350"/>
<rect x="595" y="491" width="1" height="40" fill="#26a69a"/><rect x="594" y="493" width="3" height="28" fill="#26a69a"/>
<rect x="599" y="493" width="1" height="27" fill="#ef5350"/><rect x="598" y="493" width="3" height="21" fill="#ef5350"/>
<rect x="603" y="504" width="1" height="11" fill="#26a69a"/><rect x="602" y="507" width="3" height="7" fill="#26a69a"/>
<rect x="607" y="493" width="1" height="17" fill="#26a69a"/><rect x="606" y="497" width="3" height="11" fill="#26a69a"/>
<rect x="611" y="496" width="1" height="12" fill="#ef5350"/><rect x="610" y="497" width="3" height="7" fill="#ef5350"/>
<rect x="615" y="490" width="1" height="14" fill="#26a69a"/><rect x="614" y="499" width="3" height="5" fill="#26a69a"/>
<rect x="619" y="494" width="1" height="11" fill="#ef5350"/><rect x="618" y="499" width="3" height="6" fill="#ef5350"/>
<rect x="623" y="501" width="1" height="10" fill="#ef5350"/><rect x="622" y="504" width="3" height="3" fill="#ef5350"/>
<rect x="627" y="500" width="1" height="8" fill="#26a69a"/><rect x="626" y="505" width="3" height="1" fill="#26a69a"/>
<rect x="632" y="503" width="1" height="3" fill="#26a69a"/><rect x="631" y="504" width="3" height="1" fill="#26a69a"/>
<rect x="636" y="498" width="1" height="7" fill="#26a69a"/><rect x="635" y="501" width="3" height="4" fill="#26a69a"/>
<rect x="640" y="500" width="1" height="7" fill="#ef5350"/><rect x="639" y="501" width="3" height="4" fill="#ef5350"/>
<rect x="644" y="495" width="1" height="12" fill="#ef5350"/><rect x="643" y="504" width="3" height="2" fill="#ef5350"/>
<rect x="648" y="479" width="1" height="32" fill="#26a69a"/><rect x="647" y="482" width="3" height="24" fill="#26a69a"/>
<rect x="652" y="471" width="1" height="12" fill="#26a69a"/><rect x="651" y="477" width="3" height="6" fill="#26a69a"/>
<rect x="656" y="476" width="1" height="10" fill="#ef5350"/><rect x="655" y="477" width="3" height="4" fill="#ef5350"/>
<rect x="660" y="472" width="1" height="12" fill="#26a69a"/><rect x="659" y="478" width="3" height="3" fill="#26a69a"/>
<rect x="665" y="470" width="1" height="9" fill="#26a69a"/><rect x="664" y="473" width="3" height="6" fill="#26a69a"/>
<rect x="669" y="468" width="1" height="9" fill="#ef5350"/><rect x="668" y="473" width="3" height="4" fill="#ef5350"/>
<rect x="673" y="472" width="1" height="11" fill="#26a69a"/><rect x="672" y="476" width="3" height="2" fill="#26a69a"/>
<rect x="677" y="470" width="1" height="8" fill="#ef5350"/><rect x="676" y="476" width="3" height="1" fill="#ef5350"/>
<rect x="681" y="474" width="1" height="11" fill="#ef5350"/><rect x="680" y="476" width="3" height="2" fill="#ef5350"/>
<rect x="685" y="466" width="1" height="12" fill="#26a69a"/><rect x="684" y="471" width="3" height="7" fill="#26a69a"/>
<rect x="689" y="466" width="1" height="8" fill="#26a69a"/><rect x="688" y="470" width="3" height="1" fill="#26a69a"/>
<rect x="693" y="469" width="1" height="6" fill="#ef5350"/><rect x="692" y="470" width="3" height="2" fill="#ef5350"/>
<rect x="697" y="469" width="1" height="7" fill="#ef5350"/><rect x="696" y="471" width="3" height="5" fill="#ef5350"/>
<rect x="702" y="471" width="1" height="7" fill="#26a69a"/><rect x="701" y="473" width="3" height="3" fill="#26a69a"/>
<rect x="706" y="473" width="1" height="9" fill="#ef5350"/><rect x="705" y="473" width="3" height="1" fill="#ef5350"/>
<rect x="710" y="469" width="1" height="9" fill="#ef5350"/><rect x="709" y="474" width="3" height="1" fill="#ef5350"/>
<rect x="714" y="419" width="1" height="56" fill="#26a69a"/><rect x="713" y="421" width="3" height="54" fill="#26a69a"/>
<rect x="718" y="383" width="1" height="41" fill="#26a69a"/><rect x="717" y="403" width="3" height="19" fill="#26a69a"/>
<rect x="722" y="369" width="1" height="38" fill="#26a69a"/><rect x="721" y="371" width="3" height="33" fill="#26a69a"/>
<rect x="726" y="368" width="1" height="23" fill="#ef5350"/><rect x="725" y="371" width="3" height="10" fill="#ef5350"/>
<rect x="730" y="366" width="1" height="29" fill="#ef5350"/><rect x="729" y="380" width="3" height="4" fill="#ef5350"/>
<rect x="734" y="350" width="1" height="44" fill="#26a69a"/><rect x="733" y="358" width="3" height="26" fill="#26a69a"/>
<rect x="739" y="352" width="1" height="24" fill="#ef5350"/><rect x="738" y="358" width="3" height="11" fill="#ef5350"/>
<rect x="743" y="363" width="1" height="22" fill="#ef5350"/><rect x="742" y="368" width="3" height="9" fill="#ef5350"/>
<rect x="747" y="362" width="1" height="16" fill="#ef5350"/><rect x="746" y="376" width="3" height="2" fill="#ef5350"/>
<rect x="751" y="377" width="1" height="12" fill="#ef5350"/><rect x="750" y="377" width="3" height="10" fill="#ef5350"/>
<rect x="755" y="371" width="1" height="35" fill="#26a69a"/><rect x="754" y="383" width="3" height="4" fill="#26a69a"/>
<rect x="759" y="376" width="1" height="27" fill="#26a69a"/><rect x="758" y="378" width="3" height="6" fill="#26a69a"/>
<rect x="763" y="370" width="1" height="20" fill="#ef5350"/><rect x="762" y="378" width="3" height="1" fill="#ef5350"/>
<rect x="767" y="367" width="1" height="22" fill="#26a69a"/><rect x="766" y="375" width="3" height="5" fill="#26a69a"/>
<rect x="772" y="356" width="1" height="20" fill="#26a69a"/><rect x="771" y="360" width="3" height="16" fill="#26a69a"/>
<rect x="776" y="351" width="1" height="31" fill="#ef5350"/><rect x="775" y="360" width="3" height="20" fill="#ef5350"/>
<rect x="780" y="372" width="1" height="8" fill="#26a69a"/><rect x="779" y="378" width="3" height="1" fill="#26a69a"/>
<rect x="784" y="375" width="1" height="12" fill="#26a69a"/><rect x="783" y="375" width="3" height="4" fill="#26a69a"/>
<rect x="788" y="369" width="1" height="10" fill="#26a69a"/><rect x="787" y="374" width="3" height="2" fill="#26a69a"/>
<rect x="792" y="354" width="1" height="27" fill="#26a69a"/><rect x="791" y="361" width="3" height="14" fill="#26a69a"/>
<rect x="796" y="357" width="1" height="11" fill="#26a69a"/><rect x="795" y="358" width="3" height="4" fill="#26a69a"/>
<rect x="800" y="344" width="1" height="22" fill="#ef5350"/><rect x="799" y="358" width="3" height="8" fill="#ef5350"/>
<rect x="804" y="362" width="1" height="19" fill="#ef5350"/><rect x="803" y="365" width="3" height="14" fill="#ef5350"/>
<rect x="809" y="376" width="1" height="10" fill="#ef5350"/><rect x="808" y="378" width="3" height="1" fill="#ef5350"/>
<rect x="813" y="376" width="1" height="10" fill="#26a69a"/><rect x="812" y="377" width="3" height="2" fill="#26a69a"/>
<rect x="817" y="367" width="1" height="19" fill="#26a69a"/><rect x="816" y="368" width="3" height="10" fill="#26a69a"/>
<rect x="821" y="361" width="1" height="11" fill="#ef5350"/><rect x="820" y="368" width="3" height="3" fill="#ef5350"/>
<rect x="825" y="358" width="1" height="13" fill="#26a69a"/><rect x="824" y="368" width="3" height="3" fill="#26a69a"/>
<rect x="829" y="363" width="1" height="34" fill="#ef5350"/><rect x="828" y="368" width="3" height="27" fill="#ef5350"/>
<rect x="833" y="378" width="1" height="20" fill="#26a69a"/><rect x="832" y="385" width="3" height="10" fill="#26a69a"/>
<rect x="837" y="376" width="1" height="12" fill="#26a69a"/><rect x="836" y="379" width="3" height="7" fill="#26a69a"/>
<rect x="841" y="376" width="1" height="8" fill="#ef5350"/><rect x="840" y="379" width="3" height="3" fill="#ef5350"/>
<rect x="846" y="356" width="1" height="29" fill="#26a69a"/><rect x="845" y="358" width="3" height="24" fill="#26a69a"/>
<rect x="850" y="339" width="1" height="22" fill="#26a69a"/><rect x="849" y="340" width="3" height="19" fill="#26a69a"/>
<rect x="854" y="334" width="1" height="16" fill="#ef5350"/><rect x="853" y="340" width="3" height="6" fill="#ef5350"/>
<rect x="858" y="344" width="1" height="23" fill="#ef5350"/><rect x="857" y="346" width="3" height="18" fill="#ef5350"/>
<rect x="862" y="363" width="1" height="28" fill="#ef5350"/><rect x="861" y="363" width="3" height="9" fill="#ef5350"/>
<rect x="866" y="372" width="1" height="12" fill="#ef5350"/><rect x="865" y="372" width="3" height="7" fill="#ef5350"/>
<rect x="870" y="374" width="1" height="9" fill="#26a69a"/><rect x="869" y="376" width="3" height="3" fill="#26a69a"/>
<rect x="874" y="358" width="1" height="22" fill="#ef5350"/><rect x="873" y="376" width="3" height="1" fill="#ef5350"/>
<rect x="878" y="366" width="1" height="22" fill="#ef5350"/><rect x="877" y="376" width="3" height="6" fill="#ef5350"/>
<rect x="883" y="376" width="1" height="11" fill="#26a69a"/><rect x="882" y="379" width="3" height="3" fill="#26a69a"/>
<rect x="887" y="376" width="1" height="8" fill="#ef5350"/><rect x="886" y="379" width="3" height="1" fill="#ef5350"/>
<rect x="891" y="373" width="1" height="27" fill="#ef5350"/><rect x="890" y="379" width="3" height="17" fill="#ef5350"/>
<rect x="895" y="389" width="1" height="31" fill="#ef5350"/><rect x="894" y="395" width="3" height="16" fill="#ef5350"/>
<rect x="899" y="407" width="1" height="27" fill="#ef5350"/><rect x="898" y="410" width="3" height="10" fill="#ef5350"/>
<rect x="903" y="390" width="1" height="34" fill="#26a69a"/><rect x="902" y="394" width="3" height="26" fill="#26a69a"/>
<rect x="907" y="385" width="1" height="14" fill="#26a69a"/><rect x="906" y="389" width="3" height="6" fill="#26a69a"/>
<rect x="911" y="386" width="1" height="11" fill="#ef5350"/><rect x="910" y="389" width="3" height="5" fill="#ef5350"/>
<rect x="916" y="379" width="1" height="17" fill="#ef5350"/><rect x="915" y="393" width="3" height="1" fill="#ef5350"/>
<rect x="920" y="387" width="1" height="11" fill="#26a69a"/><rect x="919" y="393" width="3" height="1" fill="#26a69a"/>
<rect x="924" y="389" width="1" height="6" fill="#26a69a"/><rect x="923" y="391" width="3" height="3" fill="#26a69a"/>
<rect x="928" y="379" width="1" height="15" fill="#26a69a"/><rect x="927" y="382" width="3" height="10" fill="#26a69a"/>
<rect x="932" y="379" width="1" height="12" fill="#ef5350"/><rect x="931" y="382" width="3" height="3" fill="#ef5350"/>
<rect x="936" y="382" width="1" height="15" fill="#ef5350"/><rect x="935" y="384" width="3" height="12" fill="#ef5350"/>
<rect x="940" y="366" width="1" height="33" fill="#26a69a"/><rect x="939" y="373" width="3" height="23" fill="#26a69a"/>
<rect x="944" y="364" width="1" height="11" fill="#26a69a"/><rect x="943" y="370" width="3" height="4" fill="#26a69a"/>
<rect x="948" y="368" width="1" height="18" fill="#ef5350"/><rect x="947" y="370" width="3" height="12" fill="#ef5350"/>
<rect x="953" y="378" width="1" height="6" fill="#26a69a"/><rect x="952" y="380" width="3" height="2" fill="#26a69a"/>
<rect x="957" y="368" width="1" height="14" fill="#26a69a"/><rect x="956" y="373" width="3" height="8" fill="#26a69a"/>
<rect x="961" y="370" width="1" height="11" fill="#ef5350"/><rect x="960" y="373" width="3" height="5" fill="#ef5350"/>
<rect x="965" y="365" width="1" height="14" fill="#26a69a"/><rect x="964" y="367" width="3" height="11" fill="#26a69a"/>
<rect x="969" y="343" width="1" height="27" fill="#26a69a"/><rect x="968" y="346" width="3" height="22" fill="#26a69a"/>
<rect x="973" y="315" width="1" height="33" fill="#26a69a"/><rect x="972" y="322" width="3" height="25" fill="#26a69a"/>
<rect x="977" y="310" width="1" height="17" fill="#26a69a"/><rect x="976" y="321" width="3" height="1" fill="#26a69a"/>
<rect x="981" y="318" width="1" height="10" fill="#ef5350"/><rect x="980" y="321" width="3" height="3" fill="#ef5350"/>
<rect x="985" y="313" width="1" height="11" fill="#26a69a"/><rect x="984" y="319" width="3" height="5" fill="#26a69a"/>
<rect x="990" y="304" width="1" height="16" fill="#26a69a"/><rect x="989" y="314" width="3" height="6" fill="#26a69a"/>
<rect x="994" y="296" width="1" height="28" fill="#26a69a"/><rect x="993" y="297" width="3" height="18" fill="#26a69a"/>
<rect x="998" y="259" width="1" height="43" fill="#26a69a"/><rect x="997" y="266" width="3" height="32" fill="#26a69a"/>
<rect x="1002" y="245" width="1" height="29" fill="#26a69a"/><rect x="1001" y="252" width="3" height="15" fill="#26a69a"/>
<rect x="1006" y="225" width="1" height="29" fill="#26a69a"/><rect x="1005" y="242" width="3" height="11" fill="#26a69a"/>
<rect x="1010" y="234" width="1" height="14" fill="#26a69a"/><rect x="1009" y="236" width="3" height="7" fill="#26a69a"/>
<rect x="1014" y="205" width="1" height="33" fill="#26a69a"/><rect x="1013" y="214" width="3" height="23" fill="#26a69a"/>
<rect x="1018" y="200" width="1" height="22" fill="#26a69a"/><rect x="1017" y="213" width="3" height="1" fill="#26a69a"/>
<rect x="1023" y="209" width="1" height="24" fill="#ef5350"/><rect x="1022" y="213" width="3" height="4" fill="#ef5350"/>
<rect x="1027" y="213" width="1" height="32" fill="#ef5350"/><rect x="1026" y="216" width="3" height="16" fill="#ef5350"/>
<rect x="1031" y="212" width="1" height="36" fill="#26a69a"/><rect x="1030" y="221" width="3" height="11" fill="#26a69a"/>
<rect x="1035" y="215" width="1" height="24" fill="#26a69a"/><rect x="1034" y="218" width="3" height="4" fill="#26a69a"/>
<rect x="1039" y="209" width="1" height="13" fill="#26a69a"/><rect x="1038" y="216" width="3" height="3" fill="#26a69a"/>
<rect x="1043" y="198" width="1" height="20" fill="#26a69a"/><rect x="1042" y="199" width="3" height="18" fill="#26a69a"/>
<rect x="1047" y="189" width="1" height="25" fill="#ef5350"/><rect x="1046" y="199" width="3" height="10" fill="#ef5350"/>
<rect x="1051" y="197" width="1" height="23" fill="#ef5350"/><rect x="1050" y="208" width="3" height="1" fill="#ef5350"/>
<rect x="1055" y="204" width="1" height="21" fill="#26a69a"/><rect x="1054" y="207" width="3" height="3" fill="#26a69a"/>
<rect x="1060" y="198" width="1" height="26" fill="#ef5350"/><rect x="1059" y="207" width="3" height="16" fill="#ef5350"/>
<rect x="1064" y="219" width="1" height="39" fill="#ef5350"/><rect x="1063" y="222" width="3" height="29" fill="#ef5350"/>
<rect x="1068" y="243" width="1" height="23" fill="#ef5350"/><rect x="1067" y="250" width="3" height="14" fill="#ef5350"/>
<rect x="1072" y="246" width="1" height="22" fill="#26a69a"/><rect x="1071" y="249" width="3" height="15" fill="#26a69a"/>
<rect x="1076" y="217" width="1" height="33" fill="#26a69a"/><rect x="1075" y="219" width="3" height="31" fill="#26a69a"/>
<rect x="1080" y="219" width="1" height="23" fill="#ef5350"/><rect x="1079" y="219" width="3" height="15" fill="#ef5350"/>
<rect x="1084" y="222" width="1" height="18" fill="#26a69a"/><rect x="1083" y="224" width="3" height="10" fill="#26a69a"/>
<rect x="1088" y="191" width="1" height="38" fill="#26a69a"/><rect x="1087" y="194" width="3" height="31" fill="#26a69a"/>
<rect x="1092" y="172" width="1" height="26" fill="#26a69a"/><rect x="1091" y="180" width="3" height="15" fill="#26a69a"/>
<rect x="1097" y="138" width="1" height="43" fill="#26a69a"/><rect x="1096" y="147" width="3" height="34" fill="#26a69a"/>
<rect x="1101" y="137" width="1" height="24" fill="#ef5350"/><rect x="1100" y="147" width="3" height="2" fill="#ef5350"/>
<rect x="1105" y="133" width="1" height="26" fill="#ef5350"/><rect x="1104" y="148" width="3" height="4" fill="#ef5350"/>
<rect x="1109" y="96" width="1" height="56" fill="#26a69a"/><rect x="1108" y="103" width="3" height="49" fill="#26a69a"/>
<rect x="1113" y="77" width="1" height="29" fill="#26a69a"/><rect x="1112" y="81" width="3" height="23" fill="#26a69a"/>
<rect x="1117" y="76" width="1" height="45" fill="#ef5350"/><rect x="1116" y="81" width="3" height="28" fill="#ef5350"/>
<rect x="1121" y="92" width="1" height="40" fill="#ef5350"/><rect x="1120" y="108" width="3" height="16" fill="#ef5350"/>
<rect x="1125" y="116" width="1" height="16" fill="#ef5350"/><rect x="1124" y="123" width="3" height="3" fill="#ef5350"/>
<rect x="1129" y="105" width="1" height="24" fill="#26a69a"/><rect x="1128" y="118" width="3" height="8" fill="#26a69a"/>
<rect x="1134" y="117" width="1" height="34" fill="#ef5350"/><rect x="1133" y="118" width="3" height="23" fill="#ef5350"/>
<rect x="1138" y="134" width="1" height="39" fill="#ef5350"/><rect x="1137" y="140" width="3" height="32" fill="#ef5350"/>
<rect x="1142" y="131" width="1" height="43" fill="#26a69a"/><rect x="1141" y="137" width="3" height="35" fill="#26a69a"/>
<rect x="1146" y="136" width="1" height="18" fill="#ef5350"/><rect x="1145" y="137" width="3" height="14" fill="#ef5350"/>
<rect x="1150" y="63" width="1" height="89" fill="#26a69a"/><rect x="1149" y="70" width="3" height="82" fill="#26a69a"/>
<rect x="1154" y="70" width="1" height="23" fill="#ef5350"/><rect x="1153" y="70" width="3" height="8" fill="#ef5350"/>
<rect x="1158" y="54" width="1" height="32" fill="#26a69a"/><rect x="1157" y="77" width="3" height="1" fill="#26a69a"/>
<rect x="1162" y="75" width="1" height="61" fill="#ef5350"/><rect x="1161" y="77" width="3" height="55" fill="#ef5350"/>
<rect x="1167" y="97" width="1" height="43" fill="#26a69a"/><rect x="1166" y="101" width="3" height="34" fill="#26a69a"/>
<rect x="1171" y="93" width="1" height="24" fill="#ef5350"/><rect x="1170" y="101" width="3" height="14" fill="#ef5350"/>
<rect x="1175" y="97" width="1" height="27" fill="#26a69a"/><rect x="1174" y="113" width="3" height="1" fill="#26a69a"/>
<rect x="1179" y="112" width="1" height="34" fill="#ef5350"/><rect x="1178" y="113" width="3" height="21" fill="#ef5350"/>
<rect x="1183" y="126" width="1" height="21" fill="#26a69a"/><rect x="1182" y="131" width="3" height="3" fill="#26a69a"/>
<rect x="1187" y="115" width="1" height="18" fill="#26a69a"/><rect x="1186" y="129" width="3" height="4" fill="#26a69a"/>
<rect x="1191" y="116" width="1" height="19" fill="#ef5350"/><rect x="1190" y="129" width="3" height="6" fill="#ef5350"/>
</g>
<line x1="10" y1="134.5" x2="1292" y2="134.5" stroke="#ef5350" stroke-width="1" stroke-dasharray="1 2" shape-rendering="crispEdges"/>
<path d="M10.5 613.5 L10.5 613.55 L14.5 613.55 L19.5 613.55 L23.5 613.55 L27.5 613.55 L31.5 613.55 L35.5 613.55 L39.5 613.55 L43.5 613.55 L47.5 612.21 L51.5 613.55 L56.5 613.55 L60.5 613.55 L64.5 613.55 L68.5 613.55 L72.5 613.55 L76.5 611.38 L80.5 613.55 L84.5 606.20 L88.5 606.70 L93.5 606.20 L97.5 613.55 L101.5 613.55 L105.5 613.55 L109.5 613.55 L113.5 613.55 L117.5 613.55 L121.5 613.55 L126.5 613.55 L130.5 613.55 L134.5 613.55 L138.5 613.55 L142.5 613.55 L146.5 613.55 L150.5 613.55 L154.5 613.55 L158.5 613.55 L163.5 613.55 L167.5 613.55 L171.5 613.55 L175.5 613.55 L179.5 613.55 L183.5 613.55 L187.5 613.55 L191.5 613.55 L195.5 613.55 L200.5 613.55 L204.5 613.55 L208.5 613.55 L212.5 613.55 L216.5 613.55 L220.5 613.55 L224.5 613.55 L228.5 613.55 L232.5 613.55 L237.5 613.55 L241.5 613.55 L245.5 613.55 L249.5 613.55 L253.5 613.55 L257.5 613.55 L261.5 613.55 L265.5 613.55 L270.5 613.55 L274.5 613.55 L278.5 613.55 L282.5 613.55 L286.5 613.55 L290.5 613.55 L294.5 613.55 L298.5 613.55 L302.5 613.55 L307.5 613.55 L311.5 613.55 L315.5 613.55 L319.5 613.55 L323.5 613.55 L327.5 613.55 L331.5 613.55 L335.5 613.55 L339.5 613.55 L344.5 613.55 L348.5 613.55 L352.5 613.55 L356.5 613.55 L360.5 613.55 L364.5 613.55 L368.5 613.55 L372.5 613.55 L377.5 613.55 L381.5 613.55 L385.5 613.55 L389.5 613.55 L393.5 613.55 L397.5 613.55 L401.5 613.55 L405.5 613.55 L409.5 613.55 L414.5 613.55 L418.5 613.55 L422.5 613.55 L426.5 613.55 L430.5 613.55 L434.5 613.55 L438.5 613.55 L442.5 613.55 L446.5 613.55 L451.5 613.55 L455.5 613.55 L459.5 613.55 L463.5 613.55 L467.5 613.55 L471.5 613.55 L475.5 613.55 L479.5 613.55 L483.5 613.55 L488.5 613.55 L492.5 613.55 L496.5 613.55 L500.5 613.55 L504.5 613.55 L508.5 613.55 L512.5 613.55 L516.5 613.55 L521.5 613.55 L525.5 613.55 L529.5 613.55 L533.5 613.55 L537.5 613.55 L541.5 613.55 L545.5 613.55 L549.5 613.55 L553.5 613.55 L558.5 613.55 L562.5 613.55 L566.5 613.55 L570.5 613.55 L574.5 613.55 L578.5 613.55 L582.5 613.55 L586.5 613.55 L590.5 613.55 L595.5 613.55 L599.5 613.55 L603.5 613.55 L607.5 613.55 L611.5 613.55 L615.5 613.55 L619.5 613.55 L623.5 613.55 L627.5 613.55 L632.5 613.55 L636.5 613.55 L640.5 613.55 L644.5 613.55 L648.5 613.55 L652.5 613.55 L656.5 613.55 L660.5 613.55 L665.5 613.55 L669.5 613.55 L673.5 613.55 L677.5 613.55 L681.5 613.55 L685.5 613.55 L689.5 613.55 L693.5 613.55 L697.5 613.55 L702.5 613.55 L706.5 613.55 L710.5 613.55 L714.5 592.72 L718.5 582.70 L722.5 573.52 L726.5 587.71 L730.5 591.89 L734.5 582.70 L739.5 594.39 L743.5 606.92 L747.5 609.76 L751.5 613.55 L755.5 613.55 L759.5 613.55 L763.5 613.55 L767.5 613.55 L772.5 604.42 L776.5 613.55 L780.5 613.55 L784.5 613.55 L788.5 613.55 L792.5 613.55 L796.5 613.55 L800.5 613.55 L804.5 613.55 L809.5 613.55 L813.5 613.55 L817.5 613.55 L821.5 613.55 L825.5 613.55 L829.5 613.55 L833.5 613.55 L837.5 613.55 L841.5 613.55 L846.5 613.55 L850.5 613.55 L854.5 613.55 L858.5 613.55 L862.5 613.55 L866.5 613.55 L870.5 613.55 L874.5 613.55 L878.5 613.55 L883.5 613.55 L887.5 613.55 L891.5 613.55 L895.5 613.55 L899.5 613.55 L903.5 613.55 L907.5 613.55 L911.5 613.55 L916.5 613.55 L920.5 613.55 L924.5 613.55 L928.5 613.55 L932.5 613.55 L936.5 613.55 L940.5 613.55 L944.5 613.55 L948.5 613.55 L953.5 613.55 L957.5 613.55 L961.5 613.55 L965.5 613.55 L969.5 613.55 L973.5 609.43 L977.5 609.09 L981.5 611.93 L985.5 608.59 L990.5 605.59 L994.5 595.23 L998.5 582.70 L1002.5 578.19 L1006.5 575.19 L1010.5 573.52 L1014.5 568.84 L1018.5 569.01 L1023.5 572.68 L1027.5 596.90 L1031.5 592.72 L1035.5 591.39 L1039.5 590.22 L1043.5 583.54 L1047.5 598.57 L1051.5 599.74 L1055.5 598.57 L1060.5 613.55 L1064.5 613.55 L1068.5 613.55 L1072.5 613.55 L1076.5 613.55 L1080.5 613.55 L1084.5 613.55 L1088.5 613.55 L1092.5 613.55 L1097.5 604.75 L1101.5 606.09 L1105.5 609.76 L1109.5 593.23 L1113.5 587.71 L1117.5 610.08 L1121.5 613.55 L1125.5 613.55 L1129.5 613.55 L1134.5 613.55 L1138.5 613.55 L1142.5 613.55 L1146.5 613.55 L1150.5 613.55 L1154.5 613.55 L1158.5 613.55 L1162.5 613.55 L1167.5 613.55 L1171.5 613.55 L1175.5 613.55 L1179.5 613.55 L1183.5 613.55 L1187.5 613.55 L1191.5 613.55 L1191.5 613.5 Z" fill="url(#gob)" clip-path="url(#cr)"/>
<path d="M10.5 625.91 L14.5 640.11 L19.5 645.95 L23.5 622.57 L27.5 625.91 L31.5 621.40 L35.5 625.91 L39.5 622.07 L43.5 635.10 L47.5 612.21 L51.5 621.74 L56.5 620.90 L60.5 614.22 L64.5 613.89 L68.5 622.57 L72.5 627.58 L76.5 611.38 L80.5 619.23 L84.5 606.20 L88.5 606.70 L93.5 606.20 L97.5 644.28 L101.5 653.47 L105.5 637.60 L109.5 634.26 L113.5 632.09 L117.5 636.77 L121.5 630.09 L126.5 628.42 L130.5 639.27 L134.5 666.83 L138.5 685.54 L142.5 680.20 L146.5 689.38 L150.5 694.06 L154.5 678.53 L158.5 671.84 L163.5 671.51 L167.5 685.54 L171.5 685.54 L175.5 676.85 L179.5 681.03 L183.5 680.70 L187.5 683.20 L191.5 680.20 L195.5 665.16 L200.5 649.30 L204.5 644.79 L208.5 647.29 L212.5 642.61 L216.5 677.69 L220.5 683.54 L224.5 692.72 L228.5 686.38 L232.5 684.37 L237.5 685.54 L241.5 698.57 L245.5 685.21 L249.5 658.48 L253.5 673.51 L257.5 656.81 L261.5 672.68 L265.5 680.20 L270.5 673.51 L274.5 668.50 L278.5 676.85 L282.5 666.00 L286.5 668.50 L290.5 668.00 L294.5 676.85 L298.5 681.87 L302.5 691.55 L307.5 686.54 L311.5 670.17 L315.5 663.49 L319.5 681.03 L323.5 701.07 L327.5 699.90 L331.5 709.76 L335.5 702.24 L339.5 708.92 L344.5 713.60 L348.5 711.93 L352.5 712.26 L356.5 706.42 L360.5 711.10 L364.5 690.22 L368.5 696.06 L372.5 688.55 L377.5 691.55 L381.5 695.23 L385.5 681.87 L389.5 689.88 L393.5 683.20 L397.5 679.36 L401.5 688.88 L405.5 672.68 L409.5 664.66 L414.5 696.90 L418.5 698.57 L422.5 710.59 L426.5 713.10 L430.5 717.78 L434.5 719.11 L438.5 676.35 L442.5 703.58 L446.5 701.07 L451.5 693.06 L455.5 696.06 L459.5 700.40 L463.5 692.55 L467.5 705.07 L471.5 714.26 L475.5 707.58 L479.5 708.41 L483.5 710.92 L488.5 705.07 L492.5 700.40 L496.5 704.57 L500.5 698.89 L504.5 697.56 L508.5 679.18 L512.5 686.70 L516.5 688.71 L521.5 686.37 L525.5 681.69 L529.5 670.00 L533.5 672.17 L537.5 680.02 L541.5 680.85 L545.5 694.22 L549.5 702.23 L553.5 704.57 L558.5 700.90 L562.5 684.70 L566.5 698.39 L570.5 694.22 L574.5 693.88 L578.5 695.39 L582.5 719.27 L586.5 721.78 L590.5 728.12 L595.5 690.54 L599.5 704.57 L603.5 697.56 L607.5 685.03 L611.5 690.38 L615.5 686.37 L619.5 690.04 L623.5 691.38 L627.5 690.04 L632.5 689.21 L636.5 684.20 L640.5 688.04 L644.5 689.71 L648.5 655.80 L652.5 649.95 L656.5 654.46 L660.5 651.62 L665.5 646.61 L669.5 652.46 L673.5 651.29 L677.5 651.69 L681.5 652.85 L685.5 643.17 L689.5 642.50 L693.5 645.34 L697.5 652.52 L702.5 649.51 L706.5 650.68 L710.5 652.85 L714.5 592.72 L718.5 582.70 L722.5 573.52 L726.5 587.71 L730.5 591.89 L734.5 582.70 L739.5 594.39 L743.5 606.92 L747.5 609.76 L751.5 620.62 L755.5 618.28 L759.5 616.11 L763.5 616.94 L767.5 613.94 L772.5 604.42 L776.5 631.48 L780.5 631.14 L784.5 629.14 L788.5 627.47 L792.5 615.61 L796.5 614.94 L800.5 625.30 L804.5 645.84 L809.5 646.17 L813.5 644.50 L817.5 634.48 L821.5 637.49 L825.5 635.32 L829.5 672.40 L833.5 662.04 L837.5 654.53 L841.5 657.03 L846.5 635.32 L850.5 620.28 L854.5 629.14 L858.5 648.68 L862.5 658.37 L866.5 665.72 L870.5 662.88 L874.5 663.38 L878.5 668.72 L883.5 666.22 L887.5 666.72 L891.5 683.76 L895.5 697.95 L899.5 706.81 L903.5 674.57 L907.5 668.72 L911.5 672.56 L916.5 672.90 L920.5 672.06 L924.5 669.89 L928.5 658.37 L932.5 661.21 L936.5 675.40 L940.5 647.84 L944.5 645.34 L948.5 660.04 L953.5 658.70 L957.5 650.35 L961.5 655.36 L965.5 643.67 L969.5 626.13 L973.5 609.43 L977.5 609.09 L981.5 611.93 L985.5 608.59 L990.5 605.59 L994.5 595.23 L998.5 582.70 L1002.5 578.19 L1006.5 575.19 L1010.5 573.52 L1014.5 568.84 L1018.5 569.01 L1023.5 572.68 L1027.5 596.90 L1031.5 592.72 L1035.5 591.39 L1039.5 590.22 L1043.5 583.54 L1047.5 598.57 L1051.5 599.74 L1055.5 598.57 L1060.5 620.28 L1064.5 653.69 L1068.5 666.22 L1072.5 652.85 L1076.5 633.15 L1080.5 647.01 L1084.5 639.83 L1088.5 622.79 L1092.5 616.94 L1097.5 604.75 L1101.5 606.09 L1105.5 609.76 L1109.5 593.23 L1113.5 587.71 L1117.5 610.08 L1121.5 622.60 L1125.5 623.94 L1129.5 620.93 L1134.5 636.80 L1138.5 659.02 L1142.5 641.81 L1146.5 651.00 L1150.5 620.93 L1154.5 624.61 L1158.5 625.11 L1162.5 654.34 L1167.5 642.65 L1171.5 648.16 L1175.5 648.49 L1179.5 658.51 L1183.5 657.68 L1187.5 656.84 L1191.5 659.68" fill="none" stroke="#7e57c2" stroke-width="3" stroke-linejoin="round" stroke-linecap="round" clip-path="url(#cr)" />
<path d="M10.5 624.25 L14.5 621.41 L19.5 621.98 L23.5 622.64 L27.5 623.33 L31.5 624.28 L35.5 626.57 L39.5 629.39 L43.5 630.41 L47.5 629.96 L51.5 629.10 L56.5 627.85 L60.5 626.51 L64.5 625.16 L68.5 624.22 L72.5 623.25 L76.5 621.87 L80.5 620.45 L84.5 618.95 L88.5 617.51 L93.5 616.73 L97.5 618.00 L101.5 620.27 L105.5 621.89 L109.5 622.68 L113.5 623.47 L117.5 624.69 L121.5 625.89 L126.5 626.76 L130.5 627.84 L134.5 632.15 L138.5 637.89 L142.5 644.12 L146.5 650.52 L150.5 654.66 L154.5 656.65 L158.5 658.10 L163.5 660.46 L167.5 663.52 L171.5 667.22 L175.5 670.94 L179.5 675.58 L183.5 679.90 L187.5 681.53 L191.5 681.53 L195.5 680.30 L200.5 677.46 L204.5 674.37 L208.5 671.14 L212.5 669.84 L216.5 670.21 L220.5 670.88 L224.5 671.39 L228.5 671.66 L232.5 671.89 L237.5 672.36 L241.5 673.08 L245.5 672.83 L249.5 672.18 L253.5 672.34 L257.5 672.72 L261.5 674.67 L265.5 677.67 L270.5 679.34 L274.5 678.85 L278.5 678.02 L282.5 676.55 L286.5 674.74 L290.5 673.43 L294.5 672.55 L298.5 672.19 L302.5 673.18 L307.5 674.48 L311.5 674.83 L315.5 675.11 L319.5 675.60 L323.5 676.93 L327.5 679.00 L331.5 681.28 L335.5 683.99 L339.5 687.08 L344.5 690.73 L348.5 693.49 L352.5 695.62 L356.5 697.05 L360.5 698.24 L364.5 699.54 L368.5 701.17 L372.5 702.50 L377.5 703.22 L381.5 702.62 L385.5 701.72 L389.5 700.62 L393.5 699.21 L397.5 697.52 L401.5 695.24 L405.5 692.34 L409.5 688.79 L414.5 687.50 L418.5 687.24 L422.5 688.40 L426.5 690.13 L430.5 692.43 L434.5 693.49 L438.5 692.25 L442.5 693.94 L446.5 694.58 L451.5 695.33 L455.5 696.40 L459.5 698.30 L463.5 700.43 L467.5 702.14 L471.5 702.97 L475.5 703.40 L479.5 703.33 L483.5 703.12 L488.5 702.30 L492.5 701.73 L496.5 702.14 L500.5 702.57 L504.5 702.16 L508.5 701.32 L512.5 700.48 L516.5 699.66 L521.5 699.13 L525.5 697.87 L529.5 695.06 L533.5 692.52 L537.5 690.14 L541.5 687.99 L545.5 687.36 L549.5 687.20 L553.5 687.29 L558.5 687.55 L562.5 687.76 L566.5 688.03 L570.5 688.35 L574.5 688.83 L578.5 689.91 L582.5 692.67 L586.5 697.07 L590.5 699.46 L595.5 701.33 L599.5 702.24 L603.5 702.57 L607.5 701.30 L611.5 699.75 L615.5 699.44 L619.5 699.25 L623.5 699.10 L627.5 698.94 L632.5 698.52 L636.5 697.87 L640.5 695.94 L644.5 692.95 L648.5 689.40 L652.5 685.44 L656.5 681.76 L660.5 678.33 L665.5 674.93 L669.5 672.38 L673.5 669.58 L677.5 666.65 L681.5 663.51 L685.5 660.40 L689.5 657.42 L693.5 654.66 L697.5 652.03 L702.5 649.91 L706.5 649.50 L710.5 648.95 L714.5 645.04 L718.5 639.42 L722.5 634.47 L726.5 629.62 L730.5 625.07 L734.5 621.05 L739.5 617.29 L743.5 614.73 L747.5 612.43 L751.5 610.17 L755.5 607.73 L759.5 605.27 L763.5 602.30 L767.5 601.11 L772.5 602.12 L776.5 605.53 L780.5 609.42 L784.5 612.28 L788.5 614.82 L792.5 617.05 L796.5 619.06 L800.5 620.94 L804.5 622.67 L809.5 624.56 L813.5 625.98 L817.5 627.34 L821.5 628.76 L825.5 630.40 L829.5 634.47 L833.5 636.66 L837.5 638.54 L841.5 641.10 L846.5 641.88 L850.5 642.42 L854.5 643.41 L858.5 644.58 L862.5 645.74 L866.5 647.03 L870.5 648.59 L874.5 650.30 L878.5 652.55 L883.5 654.19 L887.5 654.24 L891.5 656.42 L895.5 659.81 L899.5 663.34 L903.5 666.69 L907.5 669.68 L911.5 671.98 L916.5 673.63 L920.5 674.26 L924.5 674.49 L928.5 674.57 L932.5 674.47 L936.5 674.23 L940.5 673.25 L944.5 671.61 L948.5 669.69 L953.5 666.54 L957.5 663.44 L961.5 661.86 L965.5 660.19 L969.5 657.40 L973.5 652.87 L977.5 647.87 L981.5 643.58 L985.5 639.68 L990.5 635.45 L994.5 629.79 L998.5 625.87 L1002.5 621.63 L1006.5 615.33 L1010.5 608.48 L1014.5 601.86 L1018.5 596.19 L1023.5 591.89 L1027.5 589.67 L1031.5 588.44 L1035.5 587.25 L1039.5 585.50 L1043.5 584.00 L1047.5 583.20 L1051.5 583.54 L1055.5 584.79 L1060.5 587.92 L1064.5 592.72 L1068.5 599.09 L1072.5 605.93 L1076.5 612.56 L1080.5 616.19 L1084.5 620.83 L1088.5 621.92 L1092.5 624.12 L1097.5 625.49 L1101.5 626.53 L1105.5 627.04 L1109.5 626.58 L1113.5 625.67 L1117.5 624.09 L1121.5 621.84 L1125.5 618.89 L1129.5 617.61 L1134.5 617.78 L1138.5 618.13 L1142.5 618.80 L1146.5 619.74 L1150.5 620.93 L1154.5 622.33 L1158.5 624.17 L1162.5 627.04 L1167.5 631.50 L1171.5 635.27 L1175.5 638.66 L1179.5 641.33 L1183.5 643.52 L1187.5 645.34 L1191.5 646.79" fill="none" stroke="#fdd835" stroke-width="1.2" stroke-linejoin="round" stroke-linecap="round" clip-path="url(#cr)" />
<circle cx="1191.4" cy="546.3" r="12.5" fill="#fff"/>
<circle cx="1191.4" cy="546.3" r="10" fill="none" stroke="#9c27b0" stroke-width="1.5"/>
<path d="M1193.88 541.29 L1187.21 546.74 L1190.83 546.74 L1188.30 551.75 L1195.49 546.08 L1191.87 546.08 Z" fill="#9c27b0" stroke="#9c27b0" stroke-width="0.5" stroke-linejoin="round"/>
<circle cx="1198.4" cy="539.5" r="4" fill="#fff"/><circle cx="1198.4" cy="539.5" r="2.6" fill="#f23645"/>
<text x="10.2" y="18.7" font-size="12.5" fill="#131722" text-anchor="start" font-weight="normal" textLength="58.3" lengthAdjust="spacingAndGlyphs" >ranadagger</text>
<text x="73.8" y="18.7" font-size="12.5" fill="#131722" text-anchor="start" font-weight="normal" textLength="40.4" lengthAdjust="spacingAndGlyphs" >created</text>
<text x="118.3" y="18.7" font-size="12.5" fill="#131722" text-anchor="start" font-weight="normal" textLength="23.5" lengthAdjust="spacingAndGlyphs" >with</text>
<text x="146.5" y="18.7" font-size="12.5" fill="#131722" text-anchor="start" font-weight="normal" textLength="93.1" lengthAdjust="spacingAndGlyphs" >TradingView.com,</text>
<text x="244.6" y="18.7" font-size="12.5" fill="#131722" text-anchor="start" font-weight="normal" textLength="18.6" lengthAdjust="spacingAndGlyphs" >Sep</text>
<text x="267.5" y="18.7" font-size="12.5" fill="#131722" text-anchor="start" font-weight="normal" textLength="15.9" lengthAdjust="spacingAndGlyphs" >01,</text>
<text x="288.2" y="18.7" font-size="12.5" fill="#131722" text-anchor="start" font-weight="normal" textLength="24.4" lengthAdjust="spacingAndGlyphs" >2025</text>
<text x="318.4" y="18.7" font-size="12.5" fill="#131722" text-anchor="start" font-weight="normal" textLength="27.1" lengthAdjust="spacingAndGlyphs" >16:05</text>
<text x="350.6" y="18.7" font-size="12.5" fill="#131722" text-anchor="start" font-weight="normal" textLength="20.4" lengthAdjust="spacingAndGlyphs" >UTC</text>
<text x="18.2" y="45.8" font-size="12.5" fill="#131722" text-anchor="start" font-weight="normal" textLength="51.0" lengthAdjust="spacingAndGlyphs" >Ethereum</text>
<text x="75" y="45.8" font-size="12.5" fill="#131722" text-anchor="start" font-weight="normal" textLength="3.4" lengthAdjust="spacingAndGlyphs" >/</text>
<text x="83.8" y="45.8" font-size="12.5" fill="#131722" text-anchor="start" font-weight="normal" textLength="47.0" lengthAdjust="spacingAndGlyphs" >TetherUS</text>
<text x="143.9" y="45.8" font-size="12.5" fill="#131722" text-anchor="start" font-weight="normal" textLength="12.8" lengthAdjust="spacingAndGlyphs" >1D</text>
<text x="168.9" y="45.8" font-size="12.5" fill="#131722" text-anchor="start" font-weight="normal" textLength="45.3" lengthAdjust="spacingAndGlyphs" >BINANCE</text>
<text x="222.4" y="45.8" font-size="12.5" fill="#131722" text-anchor="start" font-weight="normal" textLength="7.2" lengthAdjust="spacingAndGlyphs" >O</text>
<text x="284" y="45.8" font-size="12.5" fill="#131722" text-anchor="start" font-weight="normal" textLength="7.2" lengthAdjust="spacingAndGlyphs" >H</text>
<text x="346" y="45.8" font-size="12.5" fill="#131722" text-anchor="start" font-weight="normal" textLength="4.8" lengthAdjust="spacingAndGlyphs" >L</text>
<text x="405.7" y="45.8" font-size="12.5" fill="#131722" text-anchor="start" font-weight="normal" textLength="6.5" lengthAdjust="spacingAndGlyphs" >C</text>
<circle cx="137.5" cy="41.6" r="0.9" fill="#131722"/><circle cx="162.6" cy="41.6" r="0.9" fill="#131722"/>
<text x="230.2" y="45.8" font-size="12.5" fill="#ef5350" text-anchor="start" font-weight="normal" textLength="46.1" lengthAdjust="spacingAndGlyphs" >4,391.83</text>
<text x="291.8" y="45.8" font-size="12.5" fill="#ef5350" text-anchor="start" font-weight="normal" textLength="46.2" lengthAdjust="spacingAndGlyphs" >4,491.84</text>
<text x="351.3" y="45.8" font-size="12.5" fill="#ef5350" text-anchor="start" font-weight="normal" textLength="46.7" lengthAdjust="spacingAndGlyphs" >4,346.19</text>
<text x="413.1" y="45.8" font-size="12.5" fill="#ef5350" text-anchor="start" font-weight="normal" textLength="45.5" lengthAdjust="spacingAndGlyphs" >4,357.68</text>
<text x="466.7" y="45.8" font-size="12.5" fill="#ef5350" text-anchor="start" font-weight="normal" textLength="34.5" lengthAdjust="spacingAndGlyphs" >−34.15</text>
<text x="506.7" y="45.8" font-size="12.5" fill="#ef5350" text-anchor="start" font-weight="normal" textLength="44.2" lengthAdjust="spacingAndGlyphs" >(−0.78%)</text>
<text x="18.2" y="63" font-size="12.5" fill="#131722" text-anchor="start" font-weight="normal" textLength="21.8" lengthAdjust="spacingAndGlyphs" >EMA</text>
<text x="44.7" y="63" font-size="12.5" fill="#131722" text-anchor="start" font-weight="normal" textLength="19.5" lengthAdjust="spacingAndGlyphs" >(20,</text>
<text x="68.7" y="63" font-size="12.5" fill="#131722" text-anchor="start" font-weight="normal" textLength="31.3" lengthAdjust="spacingAndGlyphs" >close)</text>
<text x="107.7" y="63" font-size="12.5" fill="#2962ff" text-anchor="start" font-weight="normal" textLength="46.4" lengthAdjust="spacingAndGlyphs" >4,378.69</text>
<text x="18.2" y="80" font-size="12.5" fill="#131722" text-anchor="start" font-weight="normal" textLength="21.5" lengthAdjust="spacingAndGlyphs" >SMA</text>
<text x="44.2" y="80" font-size="12.5" fill="#131722" text-anchor="start" font-weight="normal" textLength="19.1" lengthAdjust="spacingAndGlyphs" >(50,</text>
<text x="68" y="80" font-size="12.5" fill="#131722" text-anchor="start" font-weight="normal" textLength="31.3" lengthAdjust="spacingAndGlyphs" >close)</text>
<text x="107.2" y="80" font-size="12.5" fill="#f23645" text-anchor="start" font-weight="normal" textLength="46.1" lengthAdjust="spacingAndGlyphs" >4,025.34</text>
<text x="18.3" y="578.6" font-size="12.5" fill="#131722" text-anchor="start" font-weight="normal" textLength="15.3" lengthAdjust="spacingAndGlyphs" >RSI</text>
<text x="38.8" y="578.6" font-size="12.5" fill="#131722" text-anchor="start" font-weight="normal" textLength="19.4" lengthAdjust="spacingAndGlyphs" >(14,</text>
<text x="62.7" y="578.6" font-size="12.5" fill="#131722" text-anchor="start" font-weight="normal" textLength="31.2" lengthAdjust="spacingAndGlyphs" >close)</text>
<text x="102.2" y="578.6" font-size="12.5" fill="#7e57c2" text-anchor="start" font-weight="normal" textLength="28.5" lengthAdjust="spacingAndGlyphs" >51.77</text>
<text x="138.6" y="578.6" font-size="12.5" fill="#fbc02d" text-anchor="start" font-weight="normal" textLength="29.1" lengthAdjust="spacingAndGlyphs" >56.85</text>
<text x="1300.8" y="85.1" font-size="12.5" fill="#131722" text-anchor="start" font-weight="normal" textLength="46.6" lengthAdjust="spacingAndGlyphs" >4,750.00</text>
<text x="1300.8" y="119.1" font-size="12.5" fill="#131722" text-anchor="start" font-weight="normal" textLength="46.6" lengthAdjust="spacingAndGlyphs" >4,500.00</text>
<text x="1300.8" y="152.1" font-size="12.5" fill="#131722" text-anchor="start" font-weight="normal" textLength="46.6" lengthAdjust="spacingAndGlyphs" >4,250.00</text>
<text x="1300.8" y="186.1" font-size="12.5" fill="#131722" text-anchor="start" font-weight="normal" textLength="46.6" lengthAdjust="spacingAndGlyphs" >4,000.00</text>
<text x="1300.8" y="219.1" font-size="12.5" fill="#131722" text-anchor="start" font-weight="normal" textLength="46.6" lengthAdjust="spacingAndGlyphs" >3,750.00</text>
<text x="1300.8" y="252.1" font-size="12.5" fill="#131722" text-anchor="start" font-weight="normal" textLength="46.6" lengthAdjust="spacingAndGlyphs" >3,500.00</text>
<text x="1300.8" y="286.1" font-size="12.5" fill="#131722" text-anchor="start" font-weight="normal" textLength="46.6" lengthAdjust="spacingAndGlyphs" >3,250.00</text>
<text x="1300.8" y="319.1" font-size="12.5" fill="#131722" text-anchor="start" font-weight="normal" textLength="46.6" lengthAdjust="spacingAndGlyphs" >3,000.00</text>
<text x="1300.8" y="353.1" font-size="12.5" fill="#131722" text-anchor="start" font-weight="normal" textLength="46.6" lengthAdjust="spacingAndGlyphs" >2,750.00</text>
<text x="1300.8" y="386.1" font-size="12.5" fill="#131722" text-anchor="start" font-weight="normal" textLength="46.6" lengthAdjust="spacingAndGlyphs" >2,500.00</text>
<text x="1300.8" y="420.1" font-size="12.5" fill="#131722" text-anchor="start" font-weight="normal" textLength="46.6" lengthAdjust="spacingAndGlyphs" >2,250.00</text>
<text x="1300.8" y="453.1" font-size="12.5" fill="#131722" text-anchor="start" font-weight="normal" textLength="46.6" lengthAdjust="spacingAndGlyphs" >2,000.00</text>
<text x="1300.8" y="487.1" font-size="12.5" fill="#131722" text-anchor="start" font-weight="normal" textLength="46.6" lengthAdjust="spacingAndGlyphs" >1,750.00</text>
<text x="1300.8" y="520.1" font-size="12.5" fill="#131722" text-anchor="start" font-weight="normal" textLength="46.6" lengthAdjust="spacingAndGlyphs" >1,500.00</text>
<text x="1300.8" y="553.1" font-size="12.5" fill="#131722" text-anchor="start" font-weight="normal" textLength="46.6" lengthAdjust="spacingAndGlyphs" >1,250.00</text>
<text x="1300.8" y="591.9" font-size="12.5" fill="#131722" text-anchor="start" font-weight="normal" textLength="29.5" lengthAdjust="spacingAndGlyphs" >80.00</text>
<text x="1300.8" y="642.6" font-size="12.5" fill="#131722" text-anchor="start" font-weight="normal" textLength="29.5" lengthAdjust="spacingAndGlyphs" >60.00</text>
<text x="1300.8" y="694.3" font-size="12.5" fill="#131722" text-anchor="start" font-weight="normal" textLength="29.5" lengthAdjust="spacingAndGlyphs" >40.00</text>
<rect x="1296" y="31.2" width="57.4" height="25.6" rx="4" fill="#fff" stroke="#e8e9ed"/>
<text x="1305.1" y="49.2" font-size="12.5" fill="#131722" text-anchor="start" font-weight="normal" textLength="27.9" lengthAdjust="spacingAndGlyphs" >USDT</text>
<text x="53.9" y="756" font-size="12.5" fill="#131722" text-anchor="start" font-weight="normal" textLength="19.6" lengthAdjust="spacingAndGlyphs" >Dec</text>
<text x="177.2" y="756" font-size="12.5" fill="#131722" text-anchor="start" font-weight="normal" textLength="27" lengthAdjust="spacingAndGlyphs" stroke="#131722" stroke-width="0.3">2025</text>
<text x="309.2" y="756" font-size="12.5" fill="#131722" text-anchor="start" font-weight="normal" textLength="19" lengthAdjust="spacingAndGlyphs" >Feb</text>
<text x="423.9" y="756" font-size="12.5" fill="#131722" text-anchor="start" font-weight="normal" textLength="19.5" lengthAdjust="spacingAndGlyphs" >Mar</text>
<text x="552.5" y="756" font-size="12.5" fill="#131722" text-anchor="start" font-weight="normal" textLength="18.4" lengthAdjust="spacingAndGlyphs" >Apr</text>
<text x="674.4" y="756" font-size="12.5" fill="#131722" text-anchor="start" font-weight="normal" textLength="20.7" lengthAdjust="spacingAndGlyphs" >May</text>
<text x="803.2" y="756" font-size="12.5" fill="#131722" text-anchor="start" font-weight="normal" textLength="19.1" lengthAdjust="spacingAndGlyphs" >Jun</text>
<text x="927.8" y="756" font-size="12.5" fill="#131722" text-anchor="start" font-weight="normal" textLength="15.9" lengthAdjust="spacingAndGlyphs" >Jul</text>
<text x="1053.9" y="756" font-size="12.5" fill="#131722" text-anchor="start" font-weight="normal" textLength="19.6" lengthAdjust="spacingAndGlyphs" >Aug</text>
<text x="1181.2" y="756" font-size="12.5" fill="#131722" text-anchor="start" font-weight="normal" textLength="18.9" lengthAdjust="spacingAndGlyphs" >Sep</text>
<path d="M1263.3 109 H1292 V125.5 H1263.3 Q1261.3 125.5 1261.3 123.5 V111 Q1261.3 109 1263.3 109 Z" fill="#2962ff"/>
<path d="M1293 109 H1351 Q1353 109 1353 111 V123.5 Q1353 125.5 1351 125.5 H1293 Z" fill="#2962ff"/>
<text x="1266.3" y="121.0" font-size="12.5" fill="#fff" text-anchor="start" font-weight="normal" textLength="22.3" lengthAdjust="spacingAndGlyphs" stroke="#fff" stroke-width="0.35">EMA</text>
<text x="1300.8" y="121.0" font-size="12.5" fill="#fff" text-anchor="start" font-weight="normal" textLength="46.6" lengthAdjust="spacingAndGlyphs" stroke="#fff" stroke-width="0.35">4,378.69</text>
<path d="M1236.2 126.5 H1292 V142.8 H1236.2 Q1234.2 142.8 1234.2 140.8 V128.5 Q1234.2 126.5 1236.2 126.5 Z" fill="#ef5350"/>
<path d="M1293 126.5 H1351 Q1353 126.5 1353 128.5 V140.8 Q1353 142.8 1351 142.8 H1293 Z" fill="#ef5350"/>
<path d="M1293 126.5 H1351 Q1353 126.5 1353 128.5 V168.5 Q1353 170.5 1351 170.5 H1293 Z" fill="#ef5350"/>
<text x="1239" y="138" font-size="12.5" fill="#fff" text-anchor="start" font-weight="normal" textLength="48.3" lengthAdjust="spacingAndGlyphs" stroke="#fff" stroke-width="0.35">ETHUSDT</text>
<text x="1300.8" y="138" font-size="12.5" fill="#fff" text-anchor="start" font-weight="normal" textLength="46.6" lengthAdjust="spacingAndGlyphs" stroke="#fff" stroke-width="0.35">4,357.68</text>
<text x="1300.8" y="152.0" font-size="12.5" fill="#fff" text-anchor="start" font-weight="normal" textLength="43" lengthAdjust="spacingAndGlyphs" stroke="#fff" stroke-width="0.35">+41.67%</text>
<text x="1300.8" y="165.8" font-size="12.5" fill="#fff" text-anchor="start" font-weight="normal" textLength="46.6" lengthAdjust="spacingAndGlyphs" fill-opacity="0.7">07:54:06</text>
<path d="M1293 171.2 H1351 Q1353 171.2 1353 173.2 V185.4 Q1353 187.4 1351 187.4 H1293 Z" fill="#0000ff"/>
<text x="1300.8" y="183.1" font-size="12.5" fill="#fff" text-anchor="start" font-weight="normal" textLength="46.6" lengthAdjust="spacingAndGlyphs" stroke="#fff" stroke-width="0.35">4,094.00</text>
<path d="M1244 188.2 H1292 V204.7 H1244 Q1242 204.7 1242 202.7 V190.2 Q1242 188.2 1244 188.2 Z" fill="#f23645"/>
<path d="M1293 188.2 H1351 Q1353 188.2 1353 190.2 V202.7 Q1353 204.7 1351 204.7 H1293 Z" fill="#f23645"/>
<text x="1247" y="200.0" font-size="12.5" fill="#fff" text-anchor="start" font-weight="normal" textLength="41" lengthAdjust="spacingAndGlyphs" stroke="#fff" stroke-width="0.35">SMA:MA</text>
<text x="1300.8" y="200.0" font-size="12.5" fill="#fff" text-anchor="start" font-weight="normal" textLength="46.6" lengthAdjust="spacingAndGlyphs" stroke="#fff" stroke-width="0.35">4,025.34</text>
<path d="M1293 208.3 H1351 Q1353 208.3 1353 210.3 V222.7 Q1353 224.7 1351 224.7 H1293 Z" fill="#0000ff"/>
<text x="1300.8" y="220.5" font-size="12.5" fill="#fff" text-anchor="start" font-weight="normal" textLength="46.6" lengthAdjust="spacingAndGlyphs" stroke="#fff" stroke-width="0.35">3,745.00</text>
<path d="M1293 324 H1351 Q1353 324 1353 326 V338.6 Q1353 340.6 1351 340.6 H1293 Z" fill="#0000ff"/>
<text x="1300.8" y="336.2" font-size="12.5" fill="#fff" text-anchor="start" font-weight="normal" textLength="46.6" lengthAdjust="spacingAndGlyphs" stroke="#fff" stroke-width="0.35">2,879.00</text>
<path d="M1293 342.2 H1351 Q1353 342.2 1353 344.2 V356.7 Q1353 358.7 1351 358.7 H1293 Z" fill="#0000ff"/>
<text x="1300.8" y="354.3" font-size="12.5" fill="#fff" text-anchor="start" font-weight="normal" textLength="46.6" lengthAdjust="spacingAndGlyphs" stroke="#fff" stroke-width="0.35">2,738.50</text>
<path d="M1215 635.2 H1292 V651.6 H1215 Q1213 651.6 1213 649.6 V637.2 Q1213 635.2 1215 635.2 Z" fill="#fdd835"/>
<path d="M1293 635.2 H1333.5 Q1335.5 635.2 1335.5 637.2 V649.6 Q1335.5 651.6 1333.5 651.6 H1293 Z" fill="#fdd835"/>
<text x="1217.5" y="648.0" font-size="12.5" fill="#131722" text-anchor="start" font-weight="normal" textLength="70" lengthAdjust="spacingAndGlyphs" >RSI-based MA</text>
<text x="1300.8" y="648.0" font-size="12.5" fill="#131722" text-anchor="start" font-weight="normal" textLength="29.5" lengthAdjust="spacingAndGlyphs" >56.85</text>
<path d="M1269 652.2 H1292 V668.8 H1269 Q1267 668.8 1267 666.8 V654.2 Q1267 652.2 1269 652.2 Z" fill="#7e57c2"/>
<path d="M1293 652.2 H1333.5 Q1335.5 652.2 1335.5 654.2 V666.8 Q1335.5 668.8 1333.5 668.8 H1293 Z" fill="#7e57c2"/>
<text x="1271.5" y="665.3" font-size="12.5" fill="#fff" text-anchor="start" font-weight="normal" textLength="16.5" lengthAdjust="spacingAndGlyphs" stroke="#fff" stroke-width="0.35">RSI</text>
<text x="1300.8" y="665.3" font-size="12.5" fill="#fff" text-anchor="start" font-weight="normal" textLength="29.5" lengthAdjust="spacingAndGlyphs" stroke="#fff" stroke-width="0.35">51.77</text>
<g fill="#111">
<path d="M12 788.2 H23.8 V802.8 H17.8 V793.7 H12 Z"/>
<circle cx="29.2" cy="790.8" r="2.6"/>
<path d="M34 788.2 H42 L36.1 802.8 H29.2 Z"/>
</g>
<text x="49" y="802.8" font-size="21.2" fill="#111" text-anchor="start" font-weight="bold" textLength="120.6" lengthAdjust="spacingAndGlyphs" >TradingView</text>
</svg></body></html>
